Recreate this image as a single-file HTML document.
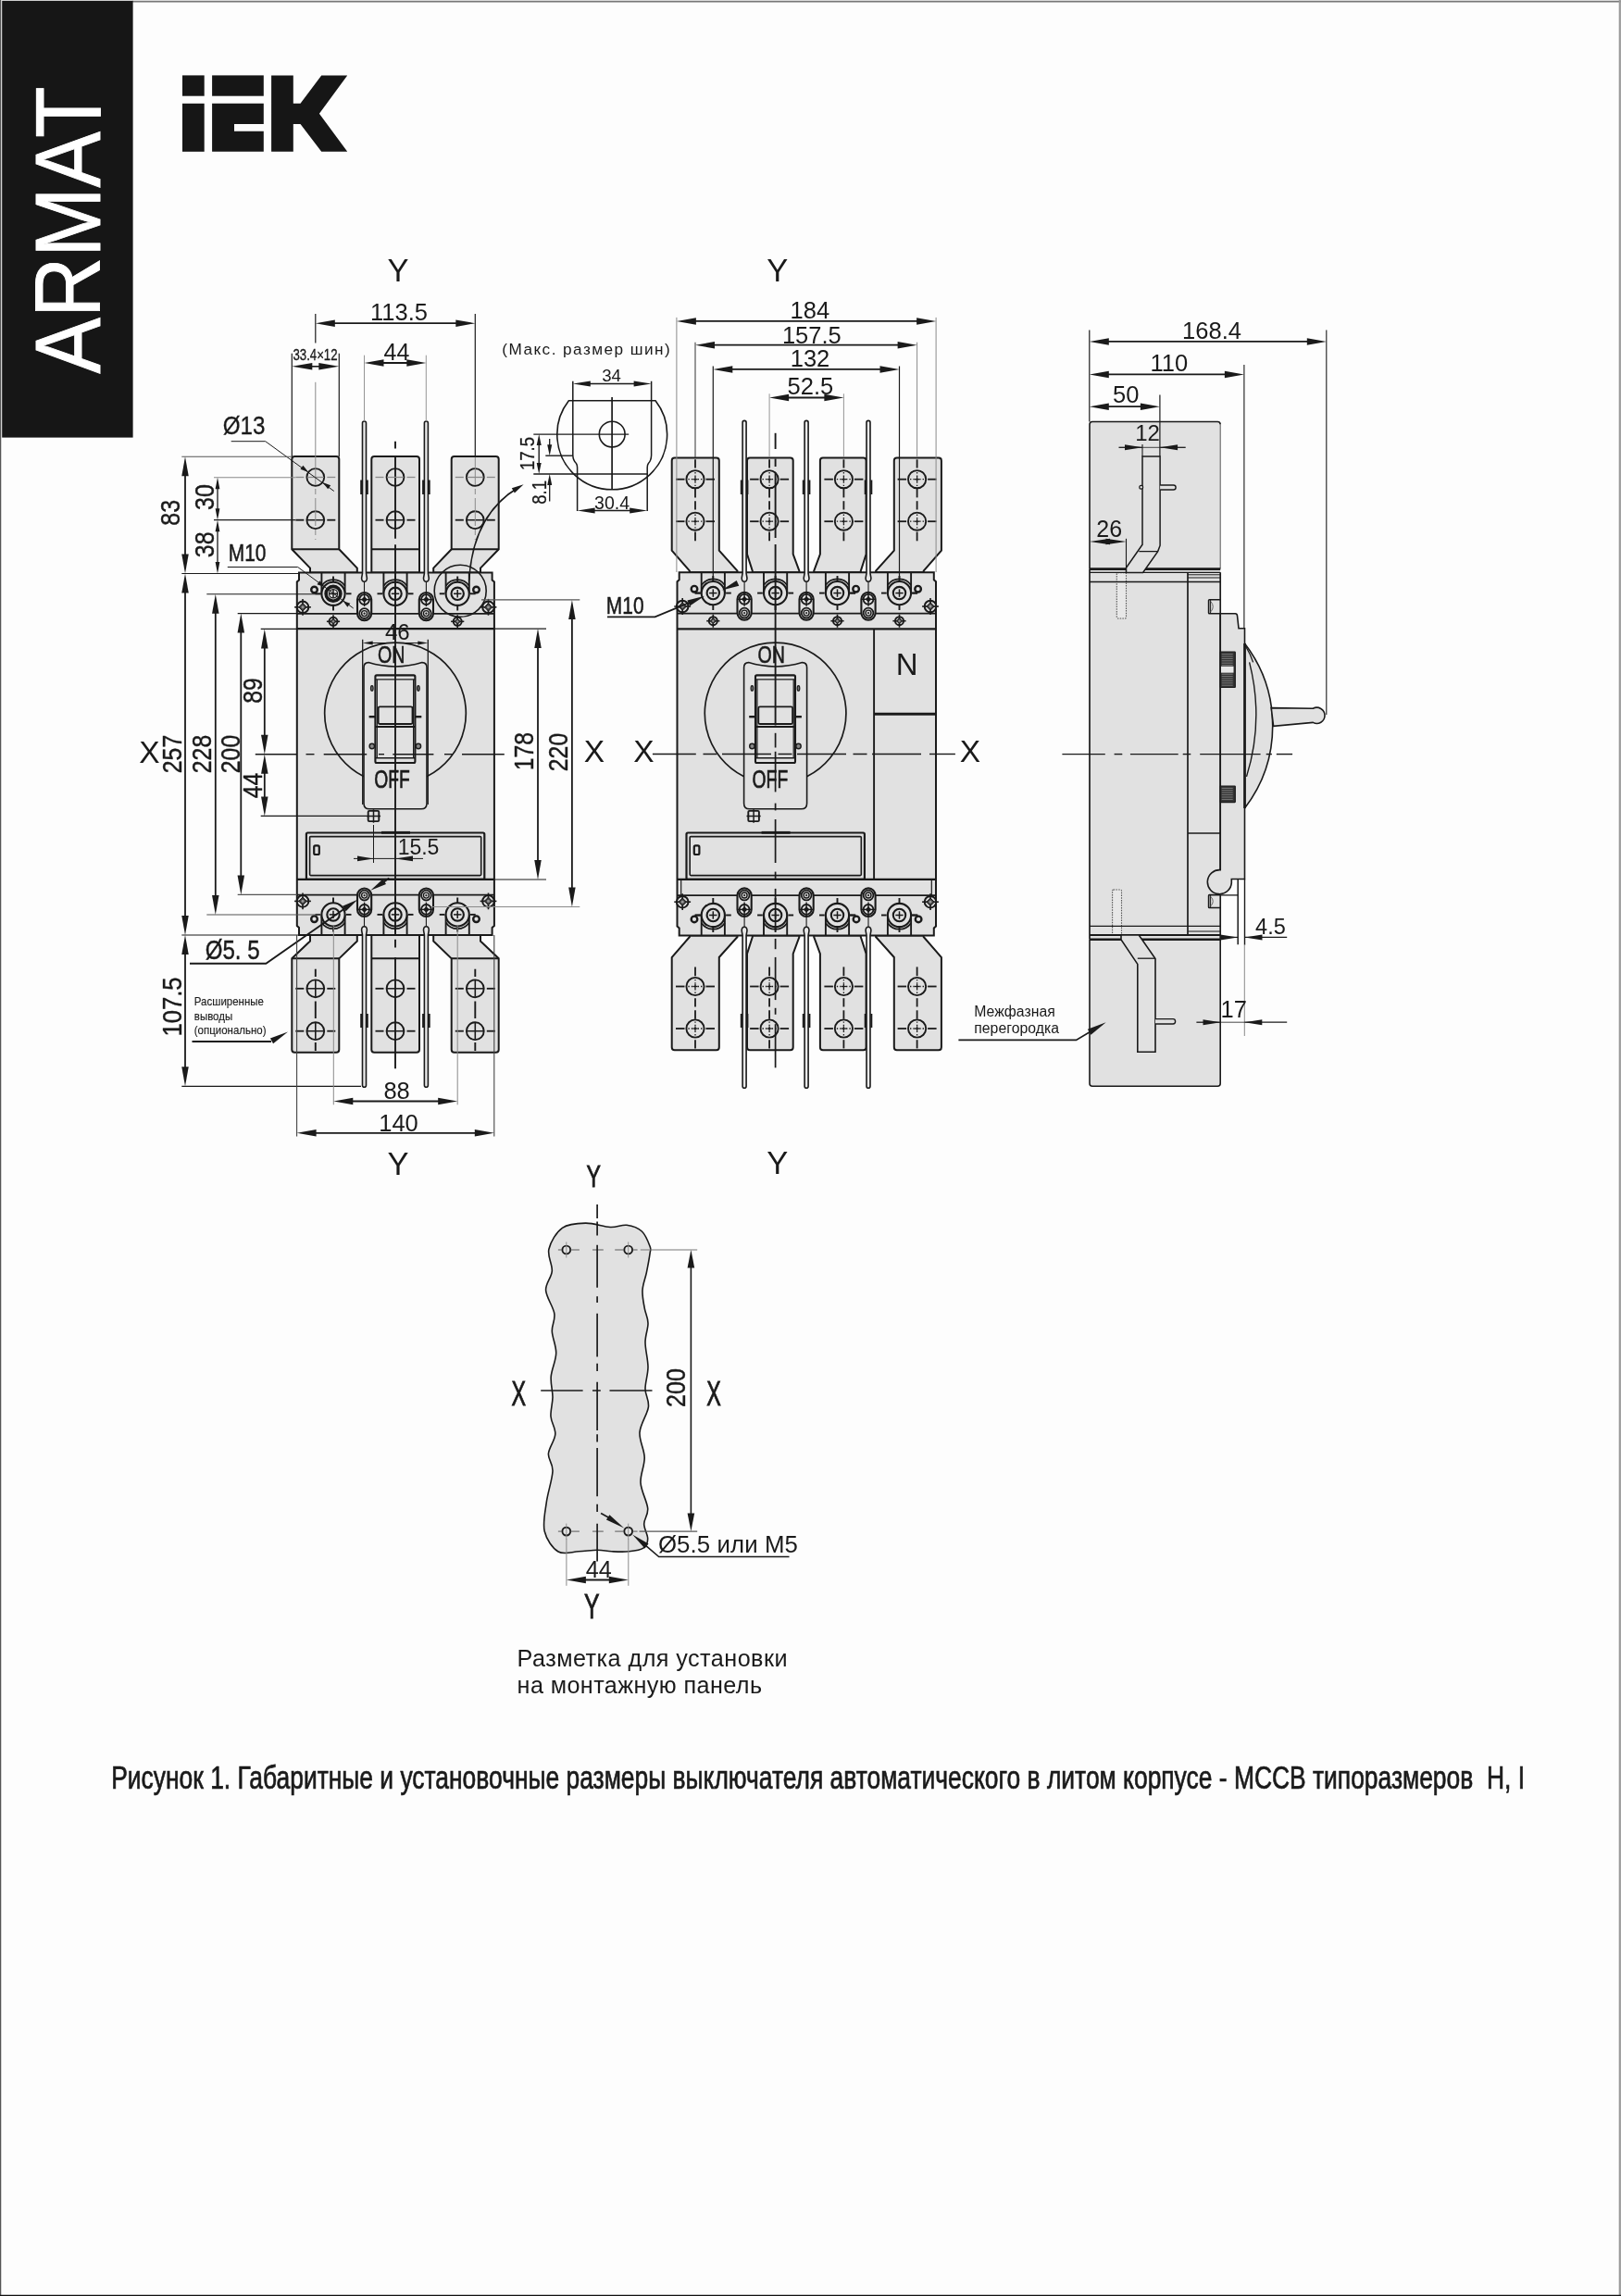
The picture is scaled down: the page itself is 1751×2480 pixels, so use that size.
<!DOCTYPE html>
<html><head><meta charset="utf-8"><title>ARMAT MCCB</title>
<style>html,body{margin:0;padding:0;background:#fdfdfd}svg{display:block;will-change:transform}text{font-family:"Liberation Sans",sans-serif}</style>
</head><body>
<svg width="1751" height="2480" viewBox="0 0 1751 2480">
<rect x="0" y="0" width="1751" height="2480" fill="#fdfdfd"/>
<line x1="143" y1="1.6" x2="1751" y2="1.6" stroke="#777" stroke-width="1.6"/>
<line x1="0.6" y1="0" x2="0.6" y2="2480" stroke="#555" stroke-width="1.3"/>
<line x1="1749.8" y1="0" x2="1749.8" y2="2480" stroke="#9a9a9a" stroke-width="2.2"/>
<line x1="0" y1="2479.5" x2="1751" y2="2479.5" stroke="#111" stroke-width="1.3"/>
<rect x="2.2" y="0.8" width="141.4" height="471.8" fill="#161616"/>
<text transform="translate(108 248.5) rotate(-90) scale(0.9 1)" font-size="100.5" text-anchor="middle" fill="#fff" stroke="#fff" stroke-width="0.9" >ARMAT</text>
<g fill="#161616">
<rect x="197" y="81.4" width="23.7" height="22.3"/>
<rect x="197" y="111.8" width="23.7" height="52"/>
<rect x="229.1" y="81.4" width="55.7" height="22.3"/>
<path d="M229.1 111.8H284.8V134H253V141.8H284.8V163.8H229.1Z"/>
<path d="M293.1 81.4H316.8V111.8H324.5L347.2 81.4H375.2L344.9 122.7L375.2 163.8H347.2L324.5 134H316.8V163.8H293.1Z"/>
</g>
<text transform="translate(120.2 1931.5) scale(0.77 1)" font-size="34.3" text-anchor="start" fill="#1a1a1a" stroke="#1a1a1a" stroke-width="0.71" xml:space="preserve" style="white-space:pre">Рисунок 1. Габаритные и установочные размеры выключателя автоматического в литом корпусе - MCCB типоразмеров  H, I</text>
<text transform="translate(558.6 1799.8)" font-size="25.2" text-anchor="start" fill="#1a1a1a" letter-spacing="0.45" >Разметка для установки</text>
<text transform="translate(558.6 1829.2)" font-size="25.2" text-anchor="start" fill="#1a1a1a" letter-spacing="0.4" >на монтажную панель</text>
<path d="M335 618.5V613.6L315.3 593.3V496Q315.3 493 318.3 493H363.3Q366.3 493 366.3 496V593.3L385.8 613.6V618.5Z" fill="#e1e1e1" stroke="#1a1a1a" stroke-width="2" />
<line x1="315.3" y1="593.3" x2="366.3" y2="593.3" stroke="#1a1a1a" stroke-width="1.9"/>
<path d="M519 618.5V613.6L538.7 593.3V496Q538.7 493 535.7 493H490.7Q487.7 493 487.7 496V593.3L468.2 613.6V618.5Z" fill="#e1e1e1" stroke="#1a1a1a" stroke-width="2" />
<line x1="538.7" y1="593.3" x2="487.7" y2="593.3" stroke="#1a1a1a" stroke-width="1.9"/>
<path d="M401.3 618.5V496Q401.3 493 404.3 493H450Q453 493 453 496V618.5Z" fill="#e1e1e1" stroke="#1a1a1a" stroke-width="2" />
<line x1="401.3" y1="593.3" x2="453" y2="593.3" stroke="#1a1a1a" stroke-width="1.9"/>
<path d="M335 1010V1016.5L315.3 1035.3V1133.7Q315.3 1136.7 318.3 1136.7H363.3Q366.3 1136.7 366.3 1133.7V1035.3L385.8 1016.5V1010Z" fill="#e1e1e1" stroke="#1a1a1a" stroke-width="2" />
<line x1="315.3" y1="1035.3" x2="366.3" y2="1035.3" stroke="#1a1a1a" stroke-width="1.9"/>
<path d="M519 1010V1016.5L538.7 1035.3V1133.7Q538.7 1136.7 535.7 1136.7H490.7Q487.7 1136.7 487.7 1133.7V1035.3L468.2 1016.5V1010Z" fill="#e1e1e1" stroke="#1a1a1a" stroke-width="2" />
<line x1="538.7" y1="1035.3" x2="487.7" y2="1035.3" stroke="#1a1a1a" stroke-width="1.9"/>
<path d="M401.3 1010V1133.7Q401.3 1136.7 404.3 1136.7H450Q453 1136.7 453 1133.7V1010Z" fill="#e1e1e1" stroke="#1a1a1a" stroke-width="2" />
<line x1="401.3" y1="1035.3" x2="453" y2="1035.3" stroke="#1a1a1a" stroke-width="1.9"/>
<path d="M323 618.5H531.6V626.5L533.9 628.5V1000L531.6 1002V1010H323V1002L320.8 1000V628.5L323 626.5Z" fill="#e1e1e1" stroke="#1a1a1a" stroke-width="2" />
<line x1="320.8" y1="662.8" x2="533.9" y2="662.8" stroke="#1a1a1a" stroke-width="1.8"/>
<line x1="320.8" y1="679.2" x2="533.9" y2="679.2" stroke="#1a1a1a" stroke-width="2.3"/>
<line x1="320.8" y1="949.9" x2="533.9" y2="949.9" stroke="#1a1a1a" stroke-width="2.3"/>
<line x1="320.8" y1="966.7" x2="533.9" y2="966.7" stroke="#1a1a1a" stroke-width="1.8"/>
<path d="M391.5 619.3V457Q391.5 455 393.5 455Q395.5 455 395.5 457V619.3L396.4 624.3Q396.4 628.3 393.5 628.3Q390.6 628.3 390.6 624.3Z" fill="#e9e9e9" stroke="#1a1a1a" stroke-width="1.6" />
<line x1="390.2" y1="518.5" x2="390.2" y2="534" stroke="#1a1a1a" stroke-width="2"/>
<line x1="396.8" y1="518.5" x2="396.8" y2="534" stroke="#1a1a1a" stroke-width="2"/>
<path d="M391.5 1009.8V1172.2Q391.5 1174.2 393.5 1174.2Q395.5 1174.2 395.5 1172.2V1009.8L396.4 1004.8Q396.4 1000.8 393.5 1000.8Q390.6 1000.8 390.6 1004.8Z" fill="#e9e9e9" stroke="#1a1a1a" stroke-width="1.6" />
<line x1="390.2" y1="1095" x2="390.2" y2="1110" stroke="#1a1a1a" stroke-width="2"/>
<line x1="396.8" y1="1095" x2="396.8" y2="1110" stroke="#1a1a1a" stroke-width="2"/>
<line x1="393.5" y1="628.3" x2="393.5" y2="641" stroke="#1a1a1a" stroke-width="1.1"/>
<line x1="393.5" y1="990" x2="393.5" y2="1000.8" stroke="#1a1a1a" stroke-width="1.1"/>
<path d="M458.4 619.3V457Q458.4 455 460.4 455Q462.4 455 462.4 457V619.3L463.3 624.3Q463.3 628.3 460.4 628.3Q457.5 628.3 457.5 624.3Z" fill="#e9e9e9" stroke="#1a1a1a" stroke-width="1.6" />
<line x1="457.1" y1="518.5" x2="457.1" y2="534" stroke="#1a1a1a" stroke-width="2"/>
<line x1="463.7" y1="518.5" x2="463.7" y2="534" stroke="#1a1a1a" stroke-width="2"/>
<path d="M458.4 1009.8V1172.2Q458.4 1174.2 460.4 1174.2Q462.4 1174.2 462.4 1172.2V1009.8L463.3 1004.8Q463.3 1000.8 460.4 1000.8Q457.5 1000.8 457.5 1004.8Z" fill="#e9e9e9" stroke="#1a1a1a" stroke-width="1.6" />
<line x1="457.1" y1="1095" x2="457.1" y2="1110" stroke="#1a1a1a" stroke-width="2"/>
<line x1="463.7" y1="1095" x2="463.7" y2="1110" stroke="#1a1a1a" stroke-width="2"/>
<line x1="460.4" y1="628.3" x2="460.4" y2="641" stroke="#1a1a1a" stroke-width="1.1"/>
<line x1="460.4" y1="990" x2="460.4" y2="1000.8" stroke="#1a1a1a" stroke-width="1.1"/>
<line x1="347.4" y1="618.5" x2="347.4" y2="641.3" stroke="#1a1a1a" stroke-width="1.9"/>
<line x1="372.6" y1="618.5" x2="372.6" y2="641.3" stroke="#1a1a1a" stroke-width="1.9"/>
<path d="M347.4 632.8A15.2 15.2 0 0 1 372.6 632.8" fill="none" stroke="#1a1a1a" stroke-width="1.8" />
<circle cx="360" cy="641.3" r="12.6" fill="#e1e1e1" stroke="#1a1a1a" stroke-width="2.1"/>
<circle cx="360" cy="641.3" r="7.9" fill="none" stroke="#1a1a1a" stroke-width="3.6"/>
<circle cx="360" cy="641.3" r="4.6" fill="none" stroke="#1a1a1a" stroke-width="1.2"/>
<line x1="355.8" y1="641.3" x2="364.2" y2="641.3" stroke="#1a1a1a" stroke-width="1.5"/>
<line x1="360" y1="637.1" x2="360" y2="645.5" stroke="#1a1a1a" stroke-width="1.5"/>
<line x1="340.5" y1="641.3" x2="346.2" y2="641.3" stroke="#1a1a1a" stroke-width="1.9"/>
<line x1="373.8" y1="641.3" x2="379.5" y2="641.3" stroke="#1a1a1a" stroke-width="1.9"/>
<line x1="360" y1="622.5" x2="360" y2="628.6" stroke="#1a1a1a" stroke-width="1.9"/>
<line x1="360" y1="654" x2="360" y2="659.5" stroke="#1a1a1a" stroke-width="1.9"/>
<line x1="347.4" y1="1010" x2="347.4" y2="987.9" stroke="#1a1a1a" stroke-width="1.9"/>
<line x1="372.6" y1="1010" x2="372.6" y2="987.9" stroke="#1a1a1a" stroke-width="1.9"/>
<path d="M347.4 996.4A15.2 15.2 0 0 0 372.6 996.4" fill="none" stroke="#1a1a1a" stroke-width="1.8" />
<circle cx="360" cy="987.9" r="12.6" fill="#e1e1e1" stroke="#1a1a1a" stroke-width="2.1"/>
<circle cx="360" cy="987.9" r="6.7" fill="none" stroke="#1a1a1a" stroke-width="2.1"/>
<line x1="355.8" y1="987.9" x2="364.2" y2="987.9" stroke="#1a1a1a" stroke-width="1.5"/>
<line x1="360" y1="983.7" x2="360" y2="992.1" stroke="#1a1a1a" stroke-width="1.5"/>
<line x1="340.5" y1="987.9" x2="346.2" y2="987.9" stroke="#1a1a1a" stroke-width="1.9"/>
<line x1="373.8" y1="987.9" x2="379.5" y2="987.9" stroke="#1a1a1a" stroke-width="1.9"/>
<line x1="360" y1="969.5" x2="360" y2="975" stroke="#1a1a1a" stroke-width="1.9"/>
<line x1="360" y1="1000.5" x2="360" y2="1006.5" stroke="#1a1a1a" stroke-width="1.9"/>
<line x1="414.4" y1="618.5" x2="414.4" y2="641.3" stroke="#1a1a1a" stroke-width="1.9"/>
<line x1="439.6" y1="618.5" x2="439.6" y2="641.3" stroke="#1a1a1a" stroke-width="1.9"/>
<path d="M414.4 632.8A15.2 15.2 0 0 1 439.6 632.8" fill="none" stroke="#1a1a1a" stroke-width="1.8" />
<circle cx="427" cy="641.3" r="12.6" fill="#e1e1e1" stroke="#1a1a1a" stroke-width="2.1"/>
<circle cx="427" cy="641.3" r="6.7" fill="none" stroke="#1a1a1a" stroke-width="2.1"/>
<line x1="422.8" y1="641.3" x2="431.2" y2="641.3" stroke="#1a1a1a" stroke-width="1.5"/>
<line x1="427" y1="637.1" x2="427" y2="645.5" stroke="#1a1a1a" stroke-width="1.5"/>
<line x1="407.5" y1="641.3" x2="413.2" y2="641.3" stroke="#1a1a1a" stroke-width="1.9"/>
<line x1="440.8" y1="641.3" x2="446.5" y2="641.3" stroke="#1a1a1a" stroke-width="1.9"/>
<line x1="427" y1="622.5" x2="427" y2="628.6" stroke="#1a1a1a" stroke-width="1.9"/>
<line x1="427" y1="654" x2="427" y2="659.5" stroke="#1a1a1a" stroke-width="1.9"/>
<line x1="414.4" y1="1010" x2="414.4" y2="987.9" stroke="#1a1a1a" stroke-width="1.9"/>
<line x1="439.6" y1="1010" x2="439.6" y2="987.9" stroke="#1a1a1a" stroke-width="1.9"/>
<path d="M414.4 996.4A15.2 15.2 0 0 0 439.6 996.4" fill="none" stroke="#1a1a1a" stroke-width="1.8" />
<circle cx="427" cy="987.9" r="12.6" fill="#e1e1e1" stroke="#1a1a1a" stroke-width="2.1"/>
<circle cx="427" cy="987.9" r="6.7" fill="none" stroke="#1a1a1a" stroke-width="2.1"/>
<line x1="422.8" y1="987.9" x2="431.2" y2="987.9" stroke="#1a1a1a" stroke-width="1.5"/>
<line x1="427" y1="983.7" x2="427" y2="992.1" stroke="#1a1a1a" stroke-width="1.5"/>
<line x1="407.5" y1="987.9" x2="413.2" y2="987.9" stroke="#1a1a1a" stroke-width="1.9"/>
<line x1="440.8" y1="987.9" x2="446.5" y2="987.9" stroke="#1a1a1a" stroke-width="1.9"/>
<line x1="427" y1="969.5" x2="427" y2="975" stroke="#1a1a1a" stroke-width="1.9"/>
<line x1="427" y1="1000.5" x2="427" y2="1006.5" stroke="#1a1a1a" stroke-width="1.9"/>
<line x1="481.6" y1="618.5" x2="481.6" y2="641.3" stroke="#1a1a1a" stroke-width="1.9"/>
<line x1="506.8" y1="618.5" x2="506.8" y2="641.3" stroke="#1a1a1a" stroke-width="1.9"/>
<path d="M481.6 632.8A15.2 15.2 0 0 1 506.8 632.8" fill="none" stroke="#1a1a1a" stroke-width="1.8" />
<circle cx="494.2" cy="641.3" r="12.6" fill="#e1e1e1" stroke="#1a1a1a" stroke-width="2.1"/>
<circle cx="494.2" cy="641.3" r="6.7" fill="none" stroke="#1a1a1a" stroke-width="2.1"/>
<line x1="490" y1="641.3" x2="498.4" y2="641.3" stroke="#1a1a1a" stroke-width="1.5"/>
<line x1="494.2" y1="637.1" x2="494.2" y2="645.5" stroke="#1a1a1a" stroke-width="1.5"/>
<line x1="474.7" y1="641.3" x2="480.4" y2="641.3" stroke="#1a1a1a" stroke-width="1.9"/>
<line x1="508" y1="641.3" x2="513.7" y2="641.3" stroke="#1a1a1a" stroke-width="1.9"/>
<line x1="494.2" y1="622.5" x2="494.2" y2="628.6" stroke="#1a1a1a" stroke-width="1.9"/>
<line x1="494.2" y1="654" x2="494.2" y2="659.5" stroke="#1a1a1a" stroke-width="1.9"/>
<line x1="481.6" y1="1010" x2="481.6" y2="987.9" stroke="#1a1a1a" stroke-width="1.9"/>
<line x1="506.8" y1="1010" x2="506.8" y2="987.9" stroke="#1a1a1a" stroke-width="1.9"/>
<path d="M481.6 996.4A15.2 15.2 0 0 0 506.8 996.4" fill="none" stroke="#1a1a1a" stroke-width="1.8" />
<circle cx="494.2" cy="987.9" r="12.6" fill="#e1e1e1" stroke="#1a1a1a" stroke-width="2.1"/>
<circle cx="494.2" cy="987.9" r="6.7" fill="none" stroke="#1a1a1a" stroke-width="2.1"/>
<line x1="490" y1="987.9" x2="498.4" y2="987.9" stroke="#1a1a1a" stroke-width="1.5"/>
<line x1="494.2" y1="983.7" x2="494.2" y2="992.1" stroke="#1a1a1a" stroke-width="1.5"/>
<line x1="474.7" y1="987.9" x2="480.4" y2="987.9" stroke="#1a1a1a" stroke-width="1.9"/>
<line x1="508" y1="987.9" x2="513.7" y2="987.9" stroke="#1a1a1a" stroke-width="1.9"/>
<line x1="494.2" y1="969.5" x2="494.2" y2="975" stroke="#1a1a1a" stroke-width="1.9"/>
<line x1="494.2" y1="1000.5" x2="494.2" y2="1006.5" stroke="#1a1a1a" stroke-width="1.9"/>
<circle cx="339.5" cy="637" r="3.3" fill="#e1e1e1" stroke="#1a1a1a" stroke-width="2.4"/>
<circle cx="339.5" cy="992.7" r="3.3" fill="#e1e1e1" stroke="#1a1a1a" stroke-width="2.4"/>
<circle cx="514.5" cy="637" r="3.3" fill="#e1e1e1" stroke="#1a1a1a" stroke-width="2.4"/>
<circle cx="514.5" cy="992.7" r="3.3" fill="#e1e1e1" stroke="#1a1a1a" stroke-width="2.4"/>
<circle cx="327" cy="655.8" r="6.3" fill="#e1e1e1" stroke="#1a1a1a" stroke-width="2"/>
<line x1="318.1" y1="655.8" x2="335.9" y2="655.8" stroke="#1a1a1a" stroke-width="1.6"/>
<line x1="327" y1="646.9" x2="327" y2="664.7" stroke="#1a1a1a" stroke-width="1.6"/>
<path d="M327 651.52L331.28 655.8L327 660.08L322.72 655.8Z" fill="#3a3a3a" stroke="#1a1a1a" stroke-width="1"/>
<circle cx="327" cy="655.8" r="1.39" fill="#999" stroke="#999" stroke-width="0.4"/>
<circle cx="327" cy="973.4" r="6.3" fill="#e1e1e1" stroke="#1a1a1a" stroke-width="2"/>
<line x1="318.1" y1="973.4" x2="335.9" y2="973.4" stroke="#1a1a1a" stroke-width="1.6"/>
<line x1="327" y1="964.5" x2="327" y2="982.3" stroke="#1a1a1a" stroke-width="1.6"/>
<path d="M327 969.12L331.28 973.4L327 977.68L322.72 973.4Z" fill="#3a3a3a" stroke="#1a1a1a" stroke-width="1"/>
<circle cx="327" cy="973.4" r="1.39" fill="#999" stroke="#999" stroke-width="0.4"/>
<circle cx="527.5" cy="655.8" r="6.3" fill="#e1e1e1" stroke="#1a1a1a" stroke-width="2"/>
<line x1="518.6" y1="655.8" x2="536.4" y2="655.8" stroke="#1a1a1a" stroke-width="1.6"/>
<line x1="527.5" y1="646.9" x2="527.5" y2="664.7" stroke="#1a1a1a" stroke-width="1.6"/>
<path d="M527.5 651.52L531.78 655.8L527.5 660.08L523.22 655.8Z" fill="#3a3a3a" stroke="#1a1a1a" stroke-width="1"/>
<circle cx="527.5" cy="655.8" r="1.39" fill="#999" stroke="#999" stroke-width="0.4"/>
<circle cx="527.5" cy="973.4" r="6.3" fill="#e1e1e1" stroke="#1a1a1a" stroke-width="2"/>
<line x1="518.6" y1="973.4" x2="536.4" y2="973.4" stroke="#1a1a1a" stroke-width="1.6"/>
<line x1="527.5" y1="964.5" x2="527.5" y2="982.3" stroke="#1a1a1a" stroke-width="1.6"/>
<path d="M527.5 969.12L531.78 973.4L527.5 977.68L523.22 973.4Z" fill="#3a3a3a" stroke="#1a1a1a" stroke-width="1"/>
<circle cx="527.5" cy="973.4" r="1.39" fill="#999" stroke="#999" stroke-width="0.4"/>
<circle cx="360" cy="671.3" r="4.5" fill="#e1e1e1" stroke="#1a1a1a" stroke-width="2"/>
<line x1="352.9" y1="671.3" x2="367.1" y2="671.3" stroke="#1a1a1a" stroke-width="1.6"/>
<line x1="360" y1="664.2" x2="360" y2="678.4" stroke="#1a1a1a" stroke-width="1.6"/>
<path d="M360 668.24L363.06 671.3L360 674.36L356.94 671.3Z" fill="#3a3a3a" stroke="#1a1a1a" stroke-width="1"/>
<circle cx="360" cy="671.3" r="0.99" fill="#999" stroke="#999" stroke-width="0.4"/>
<circle cx="494.2" cy="671.3" r="4.5" fill="#e1e1e1" stroke="#1a1a1a" stroke-width="2"/>
<line x1="487.1" y1="671.3" x2="501.3" y2="671.3" stroke="#1a1a1a" stroke-width="1.6"/>
<line x1="494.2" y1="664.2" x2="494.2" y2="678.4" stroke="#1a1a1a" stroke-width="1.6"/>
<path d="M494.2 668.24L497.26 671.3L494.2 674.36L491.14 671.3Z" fill="#3a3a3a" stroke="#1a1a1a" stroke-width="1"/>
<circle cx="494.2" cy="671.3" r="0.99" fill="#999" stroke="#999" stroke-width="0.4"/>
<rect x="386" y="640" width="15.2" height="30.2" rx="7.6" fill="#e1e1e1" stroke="#1a1a1a" stroke-width="2.1"/>
<circle cx="393.6" cy="647.6" r="5.4" fill="none" stroke="#1a1a1a" stroke-width="1.8"/>
<path d="M393.6 644.3l3.3 3.3l-3.3 3.3l-3.3 -3.3z" fill="#1a1a1a"/>
<line x1="386.2" y1="647.6" x2="401" y2="647.6" stroke="#1a1a1a" stroke-width="1.4"/>
<line x1="393.6" y1="639.8" x2="393.6" y2="655" stroke="#1a1a1a" stroke-width="1.4"/>
<circle cx="393.6" cy="662.6" r="5.4" fill="none" stroke="#1a1a1a" stroke-width="1.8"/>
<circle cx="393.6" cy="662.6" r="3" fill="none" stroke="#1a1a1a" stroke-width="1.4"/>
<circle cx="393.6" cy="662.6" r="0.9" fill="#1a1a1a" stroke="#1a1a1a" stroke-width="0.5"/>
<rect x="386" y="959.5" width="15.2" height="30.5" rx="7.6" fill="#e1e1e1" stroke="#1a1a1a" stroke-width="2.1"/>
<circle cx="393.6" cy="967.1" r="5.4" fill="none" stroke="#1a1a1a" stroke-width="1.8"/>
<circle cx="393.6" cy="967.1" r="3" fill="none" stroke="#1a1a1a" stroke-width="1.4"/>
<circle cx="393.6" cy="967.1" r="0.9" fill="#1a1a1a" stroke="#1a1a1a" stroke-width="0.5"/>
<circle cx="393.6" cy="982.4" r="5.4" fill="none" stroke="#1a1a1a" stroke-width="1.8"/>
<path d="M393.6 979.1l3.3 3.3l-3.3 3.3l-3.3 -3.3z" fill="#1a1a1a"/>
<line x1="386.2" y1="982.4" x2="401" y2="982.4" stroke="#1a1a1a" stroke-width="1.4"/>
<line x1="393.6" y1="974.6" x2="393.6" y2="989.8" stroke="#1a1a1a" stroke-width="1.4"/>
<rect x="452.8" y="640" width="15.2" height="30.2" rx="7.6" fill="#e1e1e1" stroke="#1a1a1a" stroke-width="2.1"/>
<circle cx="460.4" cy="647.6" r="5.4" fill="none" stroke="#1a1a1a" stroke-width="1.8"/>
<path d="M460.4 644.3l3.3 3.3l-3.3 3.3l-3.3 -3.3z" fill="#1a1a1a"/>
<line x1="453" y1="647.6" x2="467.8" y2="647.6" stroke="#1a1a1a" stroke-width="1.4"/>
<line x1="460.4" y1="639.8" x2="460.4" y2="655" stroke="#1a1a1a" stroke-width="1.4"/>
<circle cx="460.4" cy="662.6" r="5.4" fill="none" stroke="#1a1a1a" stroke-width="1.8"/>
<circle cx="460.4" cy="662.6" r="3" fill="none" stroke="#1a1a1a" stroke-width="1.4"/>
<circle cx="460.4" cy="662.6" r="0.9" fill="#1a1a1a" stroke="#1a1a1a" stroke-width="0.5"/>
<rect x="452.8" y="959.5" width="15.2" height="30.5" rx="7.6" fill="#e1e1e1" stroke="#1a1a1a" stroke-width="2.1"/>
<circle cx="460.4" cy="967.1" r="5.4" fill="none" stroke="#1a1a1a" stroke-width="1.8"/>
<circle cx="460.4" cy="967.1" r="3" fill="none" stroke="#1a1a1a" stroke-width="1.4"/>
<circle cx="460.4" cy="967.1" r="0.9" fill="#1a1a1a" stroke="#1a1a1a" stroke-width="0.5"/>
<circle cx="460.4" cy="982.4" r="5.4" fill="none" stroke="#1a1a1a" stroke-width="1.8"/>
<path d="M460.4 979.1l3.3 3.3l-3.3 3.3l-3.3 -3.3z" fill="#1a1a1a"/>
<line x1="453" y1="982.4" x2="467.8" y2="982.4" stroke="#1a1a1a" stroke-width="1.4"/>
<line x1="460.4" y1="974.6" x2="460.4" y2="989.8" stroke="#1a1a1a" stroke-width="1.4"/>
<circle cx="497.2" cy="638.3" r="28" fill="none" stroke="#1a1a1a" stroke-width="1.6"/>
<path d="M506.7 626.7C509 585 524 548 560 526.5" fill="none" stroke="#1a1a1a" stroke-width="1.6" />
<polygon points="565.6,523.3 555.84,532.4 552.84,527.2" fill="#1a1a1a"/>
<path d="M393 838.8A76.3 76.3 0 1 1 461 838.8" fill="none" stroke="#1a1a1a" stroke-width="1.7" />
<path d="M393 867.7V721Q393 715.6 398 715.6Q427 724.4 456 715.6Q461 715.6 461 721V867.7Q461 873.8 455 873.8H399Q393 873.8 393 867.7Z" fill="#e1e1e1" stroke="#1a1a1a" stroke-width="1.6" />
<rect x="405.4" y="729.4" width="43" height="94.6" rx="1.5" fill="none" stroke="#1a1a1a" stroke-width="2.1"/>
<line x1="405.4" y1="733.9" x2="448.4" y2="733.9" stroke="#1a1a1a" stroke-width="1.4"/>
<line x1="407.3" y1="733.9" x2="407.3" y2="818.8" stroke="#1a1a1a" stroke-width="1.2"/>
<line x1="446.6" y1="733.9" x2="446.6" y2="818.8" stroke="#1a1a1a" stroke-width="1.2"/>
<rect x="408.7" y="763.4" width="36.8" height="18.6" rx="1.5" fill="none" stroke="#1a1a1a" stroke-width="1.8"/>
<line x1="405.4" y1="784.9" x2="448.4" y2="784.9" stroke="#1a1a1a" stroke-width="2"/>
<line x1="405.4" y1="818.8" x2="448.4" y2="818.8" stroke="#1a1a1a" stroke-width="1.4"/>
<line x1="398.6" y1="774.2" x2="405.4" y2="774.2" stroke="#1a1a1a" stroke-width="2.4"/>
<line x1="448.4" y1="774.2" x2="455.3" y2="774.2" stroke="#1a1a1a" stroke-width="2.4"/>
<ellipse cx="401.8" cy="743.4" rx="1.3" ry="2.8" fill="#777" stroke="#1a1a1a" stroke-width="1.2"/>
<circle cx="401.8" cy="806" r="2.7" fill="#888" stroke="#1a1a1a" stroke-width="1.4"/>
<ellipse cx="451.9" cy="743.4" rx="1.3" ry="2.8" fill="#777" stroke="#1a1a1a" stroke-width="1.2"/>
<circle cx="451.9" cy="806" r="2.7" fill="#888" stroke="#1a1a1a" stroke-width="1.4"/>
<text transform="translate(422.7 716.2) scale(0.77 1)" font-size="25.5" text-anchor="middle" fill="#1a1a1a" stroke="#1a1a1a" stroke-width="0.53" >ON</text>
<text transform="translate(423.6 850.8) scale(0.72 1)" font-size="26.8" text-anchor="middle" fill="#1a1a1a" stroke="#1a1a1a" stroke-width="0.68" >OFF</text>
<rect x="330.9" y="899.5" width="192.4" height="50.4" rx="1.5" fill="none" stroke="#1a1a1a" stroke-width="2.2"/>
<rect x="334.6" y="903.6" width="185.1" height="42" rx="1" fill="none" stroke="#1a1a1a" stroke-width="1.6"/>
<line x1="412" y1="899.3" x2="443" y2="899.3" stroke="#1a1a1a" stroke-width="2.8"/>
<rect x="339.2" y="913.4" width="5.6" height="9.6" rx="1.5" fill="none" stroke="#1a1a1a" stroke-width="2.2"/>
<rect x="397.7" y="875.9" width="11.6" height="11.2" rx="1.2" fill="none" stroke="#1a1a1a" stroke-width="1.9"/>
<line x1="395.9" y1="881.5" x2="411.1" y2="881.5" stroke="#1a1a1a" stroke-width="1.5"/>
<line x1="403.5" y1="874.3" x2="403.5" y2="888.7" stroke="#1a1a1a" stroke-width="1.5"/>
<line x1="403.5" y1="891" x2="403.5" y2="932" stroke="#1a1a1a" stroke-width="1"/>
<line x1="427" y1="476.7" x2="427" y2="484.4" stroke="#1a1a1a" stroke-width="1.9"/>
<line x1="427" y1="494" x2="427" y2="581.7" stroke="#1a1a1a" stroke-width="1.9"/>
<line x1="427" y1="588.2" x2="427" y2="1010" stroke="#1a1a1a" stroke-width="1.9"/>
<line x1="427" y1="1014.8" x2="427" y2="1023.5" stroke="#1a1a1a" stroke-width="1.9"/>
<line x1="427" y1="1034.2" x2="427" y2="1154.2" stroke="#1a1a1a" stroke-width="1.9"/>
<line x1="275.8" y1="814.7" x2="320.8" y2="814.7" stroke="#1a1a1a" stroke-width="1.4"/>
<line x1="330.5" y1="814.7" x2="339.5" y2="814.7" stroke="#1a1a1a" stroke-width="1.4"/>
<line x1="349.7" y1="814.7" x2="396.2" y2="814.7" stroke="#1a1a1a" stroke-width="1.4"/>
<line x1="409" y1="814.7" x2="415" y2="814.7" stroke="#1a1a1a" stroke-width="1.4"/>
<line x1="424.3" y1="814.7" x2="468.4" y2="814.7" stroke="#1a1a1a" stroke-width="1.4"/>
<line x1="480" y1="814.7" x2="489" y2="814.7" stroke="#1a1a1a" stroke-width="1.4"/>
<line x1="499" y1="814.7" x2="544.8" y2="814.7" stroke="#1a1a1a" stroke-width="1.4"/>
<circle cx="340.8" cy="515.5" r="9.4" fill="none" stroke="#1a1a1a" stroke-width="1.9"/>
<line x1="319.3" y1="515.5" x2="328.3" y2="515.5" stroke="#8a8a8a" stroke-width="1.3"/>
<line x1="331.8" y1="515.5" x2="349.8" y2="515.5" stroke="#8a8a8a" stroke-width="1.3"/>
<line x1="353.3" y1="515.5" x2="362.3" y2="515.5" stroke="#8a8a8a" stroke-width="1.3"/>
<circle cx="340.8" cy="561.7" r="9.4" fill="none" stroke="#1a1a1a" stroke-width="1.9"/>
<line x1="319.3" y1="561.7" x2="328.3" y2="561.7" stroke="#1a1a1a" stroke-width="1.8"/>
<line x1="331.8" y1="561.7" x2="349.8" y2="561.7" stroke="#1a1a1a" stroke-width="1.5"/>
<line x1="353.3" y1="561.7" x2="362.3" y2="561.7" stroke="#1a1a1a" stroke-width="1.8"/>
<circle cx="340.8" cy="1067.8" r="9.4" fill="none" stroke="#1a1a1a" stroke-width="1.9"/>
<line x1="319.3" y1="1067.8" x2="328.3" y2="1067.8" stroke="#1a1a1a" stroke-width="1.8"/>
<line x1="331.8" y1="1067.8" x2="349.8" y2="1067.8" stroke="#1a1a1a" stroke-width="1.5"/>
<line x1="353.3" y1="1067.8" x2="362.3" y2="1067.8" stroke="#1a1a1a" stroke-width="1.8"/>
<circle cx="340.8" cy="1113.7" r="9.4" fill="none" stroke="#1a1a1a" stroke-width="1.9"/>
<line x1="319.3" y1="1113.7" x2="328.3" y2="1113.7" stroke="#1a1a1a" stroke-width="1.8"/>
<line x1="331.8" y1="1113.7" x2="349.8" y2="1113.7" stroke="#1a1a1a" stroke-width="1.5"/>
<line x1="353.3" y1="1113.7" x2="362.3" y2="1113.7" stroke="#1a1a1a" stroke-width="1.8"/>
<line x1="340.8" y1="494" x2="340.8" y2="583" stroke="#8a8a8a" stroke-width="1" stroke-dasharray="30 4 6 4"/>
<line x1="340.8" y1="1046.7" x2="340.8" y2="1055" stroke="#1a1a1a" stroke-width="1.9"/>
<line x1="340.8" y1="1059" x2="340.8" y2="1076.5" stroke="#1a1a1a" stroke-width="1.6"/>
<line x1="340.8" y1="1081.5" x2="340.8" y2="1100" stroke="#1a1a1a" stroke-width="1.9"/>
<line x1="340.8" y1="1104.5" x2="340.8" y2="1122.5" stroke="#1a1a1a" stroke-width="1.6"/>
<line x1="340.8" y1="1126" x2="340.8" y2="1135" stroke="#1a1a1a" stroke-width="1.9"/>
<circle cx="427" cy="515.5" r="9.4" fill="none" stroke="#1a1a1a" stroke-width="1.9"/>
<line x1="405.5" y1="515.5" x2="414.5" y2="515.5" stroke="#8a8a8a" stroke-width="1.3"/>
<line x1="418" y1="515.5" x2="436" y2="515.5" stroke="#8a8a8a" stroke-width="1.3"/>
<line x1="439.5" y1="515.5" x2="448.5" y2="515.5" stroke="#8a8a8a" stroke-width="1.3"/>
<circle cx="427" cy="561.7" r="9.4" fill="none" stroke="#1a1a1a" stroke-width="1.9"/>
<line x1="405.5" y1="561.7" x2="414.5" y2="561.7" stroke="#1a1a1a" stroke-width="1.8"/>
<line x1="418" y1="561.7" x2="436" y2="561.7" stroke="#1a1a1a" stroke-width="1.5"/>
<line x1="439.5" y1="561.7" x2="448.5" y2="561.7" stroke="#1a1a1a" stroke-width="1.8"/>
<circle cx="427" cy="1067.8" r="9.4" fill="none" stroke="#1a1a1a" stroke-width="1.9"/>
<line x1="405.5" y1="1067.8" x2="414.5" y2="1067.8" stroke="#1a1a1a" stroke-width="1.8"/>
<line x1="418" y1="1067.8" x2="436" y2="1067.8" stroke="#1a1a1a" stroke-width="1.5"/>
<line x1="439.5" y1="1067.8" x2="448.5" y2="1067.8" stroke="#1a1a1a" stroke-width="1.8"/>
<circle cx="427" cy="1113.7" r="9.4" fill="none" stroke="#1a1a1a" stroke-width="1.9"/>
<line x1="405.5" y1="1113.7" x2="414.5" y2="1113.7" stroke="#1a1a1a" stroke-width="1.8"/>
<line x1="418" y1="1113.7" x2="436" y2="1113.7" stroke="#1a1a1a" stroke-width="1.5"/>
<line x1="439.5" y1="1113.7" x2="448.5" y2="1113.7" stroke="#1a1a1a" stroke-width="1.8"/>
<circle cx="513.3" cy="515.5" r="9.4" fill="none" stroke="#1a1a1a" stroke-width="1.9"/>
<line x1="491.8" y1="515.5" x2="500.8" y2="515.5" stroke="#8a8a8a" stroke-width="1.3"/>
<line x1="504.3" y1="515.5" x2="522.3" y2="515.5" stroke="#8a8a8a" stroke-width="1.3"/>
<line x1="525.8" y1="515.5" x2="534.8" y2="515.5" stroke="#8a8a8a" stroke-width="1.3"/>
<circle cx="513.3" cy="561.7" r="9.4" fill="none" stroke="#1a1a1a" stroke-width="1.9"/>
<line x1="491.8" y1="561.7" x2="500.8" y2="561.7" stroke="#1a1a1a" stroke-width="1.8"/>
<line x1="504.3" y1="561.7" x2="522.3" y2="561.7" stroke="#1a1a1a" stroke-width="1.5"/>
<line x1="525.8" y1="561.7" x2="534.8" y2="561.7" stroke="#1a1a1a" stroke-width="1.8"/>
<circle cx="513.3" cy="1067.8" r="9.4" fill="none" stroke="#1a1a1a" stroke-width="1.9"/>
<line x1="491.8" y1="1067.8" x2="500.8" y2="1067.8" stroke="#1a1a1a" stroke-width="1.8"/>
<line x1="504.3" y1="1067.8" x2="522.3" y2="1067.8" stroke="#1a1a1a" stroke-width="1.5"/>
<line x1="525.8" y1="1067.8" x2="534.8" y2="1067.8" stroke="#1a1a1a" stroke-width="1.8"/>
<circle cx="513.3" cy="1113.7" r="9.4" fill="none" stroke="#1a1a1a" stroke-width="1.9"/>
<line x1="491.8" y1="1113.7" x2="500.8" y2="1113.7" stroke="#1a1a1a" stroke-width="1.8"/>
<line x1="504.3" y1="1113.7" x2="522.3" y2="1113.7" stroke="#1a1a1a" stroke-width="1.5"/>
<line x1="525.8" y1="1113.7" x2="534.8" y2="1113.7" stroke="#1a1a1a" stroke-width="1.8"/>
<line x1="513.3" y1="494" x2="513.3" y2="583" stroke="#8a8a8a" stroke-width="1" stroke-dasharray="30 4 6 4"/>
<line x1="513.3" y1="1046.7" x2="513.3" y2="1055" stroke="#1a1a1a" stroke-width="1.9"/>
<line x1="513.3" y1="1059" x2="513.3" y2="1076.5" stroke="#1a1a1a" stroke-width="1.6"/>
<line x1="513.3" y1="1081.5" x2="513.3" y2="1100" stroke="#1a1a1a" stroke-width="1.9"/>
<line x1="513.3" y1="1104.5" x2="513.3" y2="1122.5" stroke="#1a1a1a" stroke-width="1.6"/>
<line x1="513.3" y1="1126" x2="513.3" y2="1135" stroke="#1a1a1a" stroke-width="1.9"/>
<line x1="340.8" y1="339" x2="340.8" y2="370.5" stroke="#1a1a1a" stroke-width="1.2"/>
<line x1="340.8" y1="412.8" x2="340.8" y2="494" stroke="#8a8a8a" stroke-width="1"/>
<line x1="513.3" y1="339" x2="513.3" y2="493" stroke="#1a1a1a" stroke-width="1.2"/>
<line x1="353.4" y1="349.2" x2="500.7" y2="349.2" stroke="#1a1a1a" stroke-width="1.8"/>
<polygon points="340.8,349.2 361.8,345.45 361.8,352.95" fill="#1a1a1a"/>
<polygon points="513.3,349.2 492.3,352.95 492.3,345.45" fill="#1a1a1a"/>
<text transform="translate(431 346.3)" font-size="25.5" text-anchor="middle" fill="#1a1a1a" >113.5</text>
<line x1="315.3" y1="381.7" x2="315.3" y2="493" stroke="#1a1a1a" stroke-width="1.2"/>
<line x1="366.3" y1="381.7" x2="366.3" y2="493" stroke="#1a1a1a" stroke-width="1.2"/>
<polygon points="315.3,395.8 337.3,392.05 337.3,399.55" fill="#1a1a1a"/>
<polygon points="366.3,395.8 344.3,399.55 344.3,392.05" fill="#1a1a1a"/>
<line x1="330" y1="395.8" x2="350" y2="395.8" stroke="#1a1a1a" stroke-width="1.6"/>
<text transform="translate(340.5 388.8) scale(0.79 1)" font-size="16.7" text-anchor="middle" fill="#1a1a1a" stroke="#1a1a1a" stroke-width="0.32" >33.4×12</text>
<line x1="393.5" y1="383.7" x2="393.5" y2="455" stroke="#8a8a8a" stroke-width="0.9"/>
<line x1="460.3" y1="383.7" x2="460.3" y2="455" stroke="#8a8a8a" stroke-width="0.9"/>
<line x1="406.1" y1="392" x2="447.7" y2="392" stroke="#1a1a1a" stroke-width="1.8"/>
<polygon points="393.5,392 414.5,388.25 414.5,395.75" fill="#1a1a1a"/>
<polygon points="460.3,392 439.3,395.75 439.3,388.25" fill="#1a1a1a"/>
<text transform="translate(428.5 388.8)" font-size="25" text-anchor="middle" fill="#1a1a1a" >44</text>
<text transform="translate(240.8 468.7) scale(0.88 1)" font-size="27.5" text-anchor="start" fill="#1a1a1a" stroke="#1a1a1a" stroke-width="0.3" >Ø13</text>
<path d="M249.7 476.7H286.7L360.8 530.5" fill="none" stroke="#1a1a1a" stroke-width="1" />
<polygon points="333.19,509.98 324.44,506.71 327.38,502.67" fill="#1a1a1a"/>
<polygon points="348.41,521.02 357.16,524.29 354.22,528.33" fill="#1a1a1a"/>
<line x1="196.3" y1="493.3" x2="315" y2="493.3" stroke="#555" stroke-width="1.1"/>
<line x1="196.3" y1="619.5" x2="323" y2="619.5" stroke="#1a1a1a" stroke-width="1.2"/>
<line x1="200" y1="505.9" x2="200" y2="606.9" stroke="#1a1a1a" stroke-width="1.8"/>
<polygon points="200,493.3 203.75,514.3 196.25,514.3" fill="#1a1a1a"/>
<polygon points="200,619.5 196.25,598.5 203.75,598.5" fill="#1a1a1a"/>
<text transform="translate(194 553.7) rotate(-90) scale(0.85 1)" font-size="29.5" text-anchor="middle" fill="#1a1a1a" stroke="#1a1a1a" stroke-width="0.4" >83</text>
<line x1="231" y1="515.8" x2="319" y2="515.8" stroke="#8a8a8a" stroke-width="1.1"/>
<line x1="231" y1="561.7" x2="319" y2="561.7" stroke="#1a1a1a" stroke-width="1.3"/>
<line x1="235" y1="523.3" x2="235" y2="554.2" stroke="#1a1a1a" stroke-width="1.3"/>
<polygon points="235,515.8 237.4,528.3 232.6,528.3" fill="#1a1a1a"/>
<polygon points="235,561.7 232.6,549.2 237.4,549.2" fill="#1a1a1a"/>
<line x1="235" y1="569.2" x2="235" y2="612" stroke="#1a1a1a" stroke-width="1.3"/>
<polygon points="235,561.7 237.4,574.2 232.6,574.2" fill="#1a1a1a"/>
<polygon points="235,619.5 232.6,607 237.4,607" fill="#1a1a1a"/>
<text transform="translate(231.2 537) rotate(-90) scale(0.85 1)" font-size="29.5" text-anchor="middle" fill="#1a1a1a" stroke="#1a1a1a" stroke-width="0.4" >30</text>
<text transform="translate(231.2 588.3) rotate(-90) scale(0.85 1)" font-size="29.5" text-anchor="middle" fill="#1a1a1a" stroke="#1a1a1a" stroke-width="0.4" >38</text>
<text transform="translate(246.7 605.8) scale(0.79 1)" font-size="26.5" text-anchor="start" fill="#1a1a1a" stroke="#1a1a1a" stroke-width="0.5" >M10</text>
<path d="M245.8 612.5H321.7L381.7 657" fill="none" stroke="#1a1a1a" stroke-width="1" />
<polygon points="350.4,634.1 342.48,631.35 345.46,627.33" fill="#1a1a1a"/>
<polygon points="370.4,649 378.32,651.75 375.34,655.77" fill="#1a1a1a"/>
<line x1="200" y1="632.1" x2="200" y2="997.4" stroke="#1a1a1a" stroke-width="1.8"/>
<polygon points="200,619.5 203.75,640.5 196.25,640.5" fill="#1a1a1a"/>
<polygon points="200,1010 196.25,989 203.75,989" fill="#1a1a1a"/>
<text transform="translate(196 814.5) rotate(-90) scale(0.84 1)" font-size="29.5" text-anchor="middle" fill="#1a1a1a" stroke="#1a1a1a" stroke-width="0.42" >257</text>
<line x1="223.3" y1="641.7" x2="347" y2="641.7" stroke="#1a1a1a" stroke-width="1.1"/>
<line x1="223.3" y1="988" x2="347" y2="988" stroke="#555" stroke-width="1.1"/>
<line x1="232.8" y1="654.3" x2="232.8" y2="975.4" stroke="#1a1a1a" stroke-width="1.8"/>
<polygon points="232.8,641.7 236.55,662.7 229.05,662.7" fill="#1a1a1a"/>
<polygon points="232.8,988 229.05,967 236.55,967" fill="#1a1a1a"/>
<text transform="translate(227.5 814.5) rotate(-90) scale(0.84 1)" font-size="29.5" text-anchor="middle" fill="#1a1a1a" stroke="#1a1a1a" stroke-width="0.42" >228</text>
<line x1="256.7" y1="662.6" x2="320.8" y2="662.6" stroke="#1a1a1a" stroke-width="1.1"/>
<line x1="256.7" y1="966.4" x2="320.8" y2="966.4" stroke="#555" stroke-width="1.1"/>
<line x1="260.3" y1="675.2" x2="260.3" y2="953.8" stroke="#1a1a1a" stroke-width="1.8"/>
<polygon points="260.3,662.6 264.05,683.6 256.55,683.6" fill="#1a1a1a"/>
<polygon points="260.3,966.4 256.55,945.4 264.05,945.4" fill="#1a1a1a"/>
<text transform="translate(259 814.5) rotate(-90) scale(0.84 1)" font-size="29.5" text-anchor="middle" fill="#1a1a1a" stroke="#1a1a1a" stroke-width="0.42" >200</text>
<line x1="281.7" y1="679.4" x2="320.8" y2="679.4" stroke="#1a1a1a" stroke-width="1.2"/>
<line x1="281.7" y1="881.4" x2="396" y2="881.4" stroke="#1a1a1a" stroke-width="1.1"/>
<line x1="285.8" y1="692" x2="285.8" y2="802.1" stroke="#1a1a1a" stroke-width="1.8"/>
<polygon points="285.8,679.4 289.55,700.4 282.05,700.4" fill="#1a1a1a"/>
<polygon points="285.8,814.7 282.05,793.7 289.55,793.7" fill="#1a1a1a"/>
<line x1="285.8" y1="827.3" x2="285.8" y2="868.8" stroke="#1a1a1a" stroke-width="1.8"/>
<polygon points="285.8,814.7 289.55,835.7 282.05,835.7" fill="#1a1a1a"/>
<polygon points="285.8,881.4 282.05,860.4 289.55,860.4" fill="#1a1a1a"/>
<text transform="translate(283 746) rotate(-90) scale(0.84 1)" font-size="29.5" text-anchor="middle" fill="#1a1a1a" stroke="#1a1a1a" stroke-width="0.42" >89</text>
<text transform="translate(283 848.5) rotate(-90) scale(0.84 1)" font-size="29.5" text-anchor="middle" fill="#1a1a1a" stroke="#1a1a1a" stroke-width="0.42" >44</text>
<line x1="391.7" y1="690.8" x2="391.7" y2="869" stroke="#1a1a1a" stroke-width="1.3"/>
<line x1="462.3" y1="690.8" x2="462.3" y2="869" stroke="#1a1a1a" stroke-width="1.3"/>
<line x1="398.3" y1="694.5" x2="455.7" y2="694.5" stroke="#1a1a1a" stroke-width="1.2"/>
<polygon points="391.7,694.5 402.7,692.4 402.7,696.6" fill="#1a1a1a"/>
<polygon points="462.3,694.5 451.3,696.6 451.3,692.4" fill="#1a1a1a"/>
<text transform="translate(429.3 691.3)" font-size="24" text-anchor="middle" fill="#1a1a1a" >46</text>
<line x1="382" y1="927.4" x2="457" y2="927.4" stroke="#1a1a1a" stroke-width="1"/>
<polygon points="403.5,927.4 386,930.2 386,924.6" fill="#1a1a1a"/>
<polygon points="427,927.4 446,924.6 446,930.2" fill="#1a1a1a"/>
<text transform="translate(452 923.4)" font-size="23" text-anchor="middle" fill="#1a1a1a" >15.5</text>
<line x1="533.9" y1="679.1" x2="590" y2="679.1" stroke="#1a1a1a" stroke-width="1.2"/>
<line x1="533.9" y1="950" x2="590" y2="950" stroke="#1a1a1a" stroke-width="1.2"/>
<line x1="581" y1="691.7" x2="581" y2="937.4" stroke="#1a1a1a" stroke-width="1.8"/>
<polygon points="581,679.1 584.75,700.1 577.25,700.1" fill="#1a1a1a"/>
<polygon points="581,950 577.25,929 584.75,929" fill="#1a1a1a"/>
<text transform="translate(576.3 811.6) rotate(-90) scale(0.84 1)" font-size="29.5" text-anchor="middle" fill="#1a1a1a" stroke="#1a1a1a" stroke-width="0.42" >178</text>
<line x1="520" y1="647.9" x2="626.3" y2="647.9" stroke="#555" stroke-width="1.1"/>
<line x1="466" y1="979.5" x2="626.3" y2="979.5" stroke="#8a8a8a" stroke-width="1.1"/>
<line x1="617.9" y1="660.5" x2="617.9" y2="966.9" stroke="#1a1a1a" stroke-width="1.8"/>
<polygon points="617.9,647.9 621.65,668.9 614.15,668.9" fill="#1a1a1a"/>
<polygon points="617.9,979.5 614.15,958.5 621.65,958.5" fill="#1a1a1a"/>
<text transform="translate(613.3 812.5) rotate(-90) scale(0.84 1)" font-size="29.5" text-anchor="middle" fill="#1a1a1a" stroke="#1a1a1a" stroke-width="0.42" >220</text>
<text transform="translate(221.7 1035.8) scale(0.83 1)" font-size="29" text-anchor="start" fill="#1a1a1a" stroke="#1a1a1a" stroke-width="0.44" >Ø5. 5</text>
<path d="M205 1040.8H287.3L372.5 981.2" fill="none" stroke="#1a1a1a" stroke-width="1.9" />
<line x1="414.5" y1="952.7" x2="420.3" y2="948.5" stroke="#1a1a1a" stroke-width="1.9"/>
<polygon points="386.3,971.8 373.67,984.36 369.92,978.81" fill="#1a1a1a"/>
<polygon points="400.3,961.8 413.57,949.51 417.02,954.91" fill="#1a1a1a"/>
<line x1="196.3" y1="1010" x2="323" y2="1010" stroke="#1a1a1a" stroke-width="1.2"/>
<line x1="196.3" y1="1173.3" x2="390" y2="1173.3" stroke="#1a1a1a" stroke-width="1.2"/>
<line x1="200" y1="1022.6" x2="200" y2="1160.7" stroke="#1a1a1a" stroke-width="1.8"/>
<polygon points="200,1010 203.75,1031 196.25,1031" fill="#1a1a1a"/>
<polygon points="200,1173.3 196.25,1152.3 203.75,1152.3" fill="#1a1a1a"/>
<text transform="translate(195.8 1087.5) rotate(-90) scale(0.87 1)" font-size="29.5" text-anchor="middle" fill="#1a1a1a" stroke="#1a1a1a" stroke-width="0.35" >107.5</text>
<text transform="translate(209.8 1085.8) scale(0.89 1)" font-size="12.9" text-anchor="start" fill="#1a1a1a" stroke="#1a1a1a" stroke-width="0.13" >Расширенные</text>
<text transform="translate(209.8 1101.7) scale(0.89 1)" font-size="12.9" text-anchor="start" fill="#1a1a1a" stroke="#1a1a1a" stroke-width="0.13" >выводы</text>
<text transform="translate(209.8 1117.3) scale(0.89 1)" font-size="12.9" text-anchor="start" fill="#1a1a1a" stroke="#1a1a1a" stroke-width="0.13" >(опционально)</text>
<path d="M207.5 1125H293" fill="none" stroke="#1a1a1a" stroke-width="1.9" />
<polygon points="311,1114.6 295.08,1127.14 291.93,1121.45" fill="#1a1a1a"/>
<line x1="360.3" y1="1000" x2="360.3" y2="1193.3" stroke="#8a8a8a" stroke-width="1"/>
<line x1="494.2" y1="1000" x2="494.2" y2="1193.3" stroke="#8a8a8a" stroke-width="1"/>
<line x1="372.9" y1="1189.5" x2="481.6" y2="1189.5" stroke="#1a1a1a" stroke-width="1.8"/>
<polygon points="360.3,1189.5 381.3,1185.75 381.3,1193.25" fill="#1a1a1a"/>
<polygon points="494.2,1189.5 473.2,1193.25 473.2,1185.75" fill="#1a1a1a"/>
<text transform="translate(428.6 1186.7)" font-size="25.5" text-anchor="middle" fill="#1a1a1a" >88</text>
<line x1="320.6" y1="1010" x2="320.6" y2="1227.5" stroke="#444" stroke-width="1.1"/>
<line x1="533.8" y1="1010" x2="533.8" y2="1227.5" stroke="#444" stroke-width="1.1"/>
<line x1="333.2" y1="1223.8" x2="521.2" y2="1223.8" stroke="#1a1a1a" stroke-width="1.8"/>
<polygon points="320.6,1223.8 341.6,1220.05 341.6,1227.55" fill="#1a1a1a"/>
<polygon points="533.8,1223.8 512.8,1227.55 512.8,1220.05" fill="#1a1a1a"/>
<text transform="translate(430.5 1222.3)" font-size="25.5" text-anchor="middle" fill="#1a1a1a" >140</text>
<text transform="translate(430 304)" font-size="34.5" text-anchor="middle" fill="#1a1a1a" >Y</text>
<text transform="translate(430 1268.5)" font-size="34.5" text-anchor="middle" fill="#1a1a1a" >Y</text>
<text transform="translate(161.5 823.5)" font-size="33.5" text-anchor="middle" fill="#1a1a1a" >X</text>
<text transform="translate(642 823.2)" font-size="33.5" text-anchor="middle" fill="#1a1a1a" >X</text>
<path d="M744.9 618.2V616.7L725.7 594.7V497.4Q725.7 494.4 728.7 494.4H773.8Q776.8 494.4 776.8 497.4V594.7L796.5 616.7V618.2Z" fill="#e1e1e1" stroke="#1a1a1a" stroke-width="2" />
<path d="M946.1 618.2V616.7L965.8 594.7V497.4Q965.8 494.4 968.8 494.4H1013.9Q1016.9 494.4 1016.9 497.4V594.7L997.7 616.7V618.2Z" fill="#e1e1e1" stroke="#1a1a1a" stroke-width="2" />
<path d="M812.8 618.2V616.7L807 598.6V497.4Q807 494.4 810 494.4H853.7Q856.7 494.4 856.7 497.4V598.6L863.4 616.7V618.2Z" fill="#e1e1e1" stroke="#1a1a1a" stroke-width="2" />
<path d="M879.2 618.2V616.7L885.9 598.6V497.4Q885.9 494.4 888.9 494.4H932.6Q935.6 494.4 935.6 497.4V598.6L929.8 616.7V618.2Z" fill="#e1e1e1" stroke="#1a1a1a" stroke-width="2" />
<path d="M744.9 1010.5V1012L725.7 1034V1131.3Q725.7 1134.3 728.7 1134.3H773.8Q776.8 1134.3 776.8 1131.3V1034L796.5 1012V1010.5Z" fill="#e1e1e1" stroke="#1a1a1a" stroke-width="2" />
<path d="M946.1 1010.5V1012L965.8 1034V1131.3Q965.8 1134.3 968.8 1134.3H1013.9Q1016.9 1134.3 1016.9 1131.3V1034L997.7 1012V1010.5Z" fill="#e1e1e1" stroke="#1a1a1a" stroke-width="2" />
<path d="M812.8 1010.5V1012L807 1030.1V1131.3Q807 1134.3 810 1134.3H853.7Q856.7 1134.3 856.7 1131.3V1030.1L863.4 1012V1010.5Z" fill="#e1e1e1" stroke="#1a1a1a" stroke-width="2" />
<path d="M879.2 1010.5V1012L885.9 1030.1V1131.3Q885.9 1134.3 888.9 1134.3H932.6Q935.6 1134.3 935.6 1131.3V1030.1L929.8 1012V1010.5Z" fill="#e1e1e1" stroke="#1a1a1a" stroke-width="2" />
<path d="M733.7 618.2H1008.8V626.2L1011 628.2V1000.5L1008.8 1002.5V1010.5H733.7V1002.5L731.5 1000.5V628.2L733.7 626.2Z" fill="#e1e1e1" stroke="#1a1a1a" stroke-width="2" />
<line x1="731.5" y1="662.6" x2="1011" y2="662.6" stroke="#1a1a1a" stroke-width="1.8"/>
<line x1="731.5" y1="679.3" x2="1011" y2="679.3" stroke="#1a1a1a" stroke-width="2.3"/>
<line x1="731.5" y1="949.9" x2="1011" y2="949.9" stroke="#1a1a1a" stroke-width="2.3"/>
<line x1="731.5" y1="967.1" x2="1011" y2="967.1" stroke="#1a1a1a" stroke-width="1.8"/>
<line x1="944.1" y1="679.3" x2="944.1" y2="949.9" stroke="#1a1a1a" stroke-width="1.9"/>
<line x1="944.1" y1="771.3" x2="1011" y2="771.3" stroke="#1a1a1a" stroke-width="3"/>
<line x1="735.7" y1="949.9" x2="735.7" y2="967.1" stroke="#1a1a1a" stroke-width="1.2"/>
<line x1="1006.3" y1="949.9" x2="1006.3" y2="967.1" stroke="#1a1a1a" stroke-width="1.2"/>
<path d="M802.1 619.3V456.4Q802.1 454.4 804.1 454.4Q806.1 454.4 806.1 456.4V619.3L807 624.3Q807 628.3 804.1 628.3Q801.2 628.3 801.2 624.3Z" fill="#e9e9e9" stroke="#1a1a1a" stroke-width="1.6" />
<line x1="800.8" y1="518.5" x2="800.8" y2="534" stroke="#1a1a1a" stroke-width="2"/>
<line x1="807.4" y1="518.5" x2="807.4" y2="534" stroke="#1a1a1a" stroke-width="2"/>
<path d="M802.1 1010.3V1173.2Q802.1 1175.2 804.1 1175.2Q806.1 1175.2 806.1 1173.2V1010.3L807 1005.3Q807 1001.3 804.1 1001.3Q801.2 1001.3 801.2 1005.3Z" fill="#e9e9e9" stroke="#1a1a1a" stroke-width="1.6" />
<line x1="800.8" y1="1095" x2="800.8" y2="1110" stroke="#1a1a1a" stroke-width="2"/>
<line x1="807.4" y1="1095" x2="807.4" y2="1110" stroke="#1a1a1a" stroke-width="2"/>
<line x1="804.1" y1="628.3" x2="804.1" y2="640" stroke="#1a1a1a" stroke-width="1.1"/>
<line x1="804.1" y1="990" x2="804.1" y2="1001.3" stroke="#1a1a1a" stroke-width="1.1"/>
<path d="M869.1 619.3V456.4Q869.1 454.4 871.1 454.4Q873.1 454.4 873.1 456.4V619.3L874 624.3Q874 628.3 871.1 628.3Q868.2 628.3 868.2 624.3Z" fill="#e9e9e9" stroke="#1a1a1a" stroke-width="1.6" />
<line x1="867.8" y1="518.5" x2="867.8" y2="534" stroke="#1a1a1a" stroke-width="2"/>
<line x1="874.4" y1="518.5" x2="874.4" y2="534" stroke="#1a1a1a" stroke-width="2"/>
<path d="M869.1 1010.3V1173.2Q869.1 1175.2 871.1 1175.2Q873.1 1175.2 873.1 1173.2V1010.3L874 1005.3Q874 1001.3 871.1 1001.3Q868.2 1001.3 868.2 1005.3Z" fill="#e9e9e9" stroke="#1a1a1a" stroke-width="1.6" />
<line x1="867.8" y1="1095" x2="867.8" y2="1110" stroke="#1a1a1a" stroke-width="2"/>
<line x1="874.4" y1="1095" x2="874.4" y2="1110" stroke="#1a1a1a" stroke-width="2"/>
<line x1="871.1" y1="628.3" x2="871.1" y2="640" stroke="#1a1a1a" stroke-width="1.1"/>
<line x1="871.1" y1="990" x2="871.1" y2="1001.3" stroke="#1a1a1a" stroke-width="1.1"/>
<path d="M936 619.3V456.4Q936 454.4 938 454.4Q940 454.4 940 456.4V619.3L940.9 624.3Q940.9 628.3 938 628.3Q935.1 628.3 935.1 624.3Z" fill="#e9e9e9" stroke="#1a1a1a" stroke-width="1.6" />
<line x1="934.7" y1="518.5" x2="934.7" y2="534" stroke="#1a1a1a" stroke-width="2"/>
<line x1="941.3" y1="518.5" x2="941.3" y2="534" stroke="#1a1a1a" stroke-width="2"/>
<path d="M936 1010.3V1173.2Q936 1175.2 938 1175.2Q940 1175.2 940 1173.2V1010.3L940.9 1005.3Q940.9 1001.3 938 1001.3Q935.1 1001.3 935.1 1005.3Z" fill="#e9e9e9" stroke="#1a1a1a" stroke-width="1.6" />
<line x1="934.7" y1="1095" x2="934.7" y2="1110" stroke="#1a1a1a" stroke-width="2"/>
<line x1="941.3" y1="1095" x2="941.3" y2="1110" stroke="#1a1a1a" stroke-width="2"/>
<line x1="938" y1="628.3" x2="938" y2="640" stroke="#1a1a1a" stroke-width="1.1"/>
<line x1="938" y1="990" x2="938" y2="1001.3" stroke="#1a1a1a" stroke-width="1.1"/>
<line x1="757.7" y1="618.2" x2="757.7" y2="640.6" stroke="#1a1a1a" stroke-width="1.9"/>
<line x1="782.9" y1="618.2" x2="782.9" y2="640.6" stroke="#1a1a1a" stroke-width="1.9"/>
<path d="M757.7 632.1A15.2 15.2 0 0 1 782.9 632.1" fill="none" stroke="#1a1a1a" stroke-width="1.8" />
<circle cx="770.3" cy="640.6" r="12.6" fill="#e1e1e1" stroke="#1a1a1a" stroke-width="2.1"/>
<circle cx="770.3" cy="640.6" r="6.7" fill="none" stroke="#1a1a1a" stroke-width="2.1"/>
<line x1="766.1" y1="640.6" x2="774.5" y2="640.6" stroke="#1a1a1a" stroke-width="1.5"/>
<line x1="770.3" y1="636.4" x2="770.3" y2="644.8" stroke="#1a1a1a" stroke-width="1.5"/>
<line x1="750.8" y1="640.6" x2="756.5" y2="640.6" stroke="#1a1a1a" stroke-width="1.9"/>
<line x1="784.1" y1="640.6" x2="789.8" y2="640.6" stroke="#1a1a1a" stroke-width="1.9"/>
<line x1="770.3" y1="622" x2="770.3" y2="628" stroke="#1a1a1a" stroke-width="1.9"/>
<line x1="770.3" y1="653.5" x2="770.3" y2="659" stroke="#1a1a1a" stroke-width="1.9"/>
<line x1="757.7" y1="1010.5" x2="757.7" y2="988.5" stroke="#1a1a1a" stroke-width="1.9"/>
<line x1="782.9" y1="1010.5" x2="782.9" y2="988.5" stroke="#1a1a1a" stroke-width="1.9"/>
<path d="M757.7 997A15.2 15.2 0 0 0 782.9 997" fill="none" stroke="#1a1a1a" stroke-width="1.8" />
<circle cx="770.3" cy="988.5" r="12.6" fill="#e1e1e1" stroke="#1a1a1a" stroke-width="2.1"/>
<circle cx="770.3" cy="988.5" r="6.7" fill="none" stroke="#1a1a1a" stroke-width="2.1"/>
<line x1="766.1" y1="988.5" x2="774.5" y2="988.5" stroke="#1a1a1a" stroke-width="1.5"/>
<line x1="770.3" y1="984.3" x2="770.3" y2="992.7" stroke="#1a1a1a" stroke-width="1.5"/>
<line x1="750.8" y1="988.5" x2="756.5" y2="988.5" stroke="#1a1a1a" stroke-width="1.9"/>
<line x1="784.1" y1="988.5" x2="789.8" y2="988.5" stroke="#1a1a1a" stroke-width="1.9"/>
<line x1="770.3" y1="970" x2="770.3" y2="975.5" stroke="#1a1a1a" stroke-width="1.9"/>
<line x1="770.3" y1="1001" x2="770.3" y2="1007" stroke="#1a1a1a" stroke-width="1.9"/>
<line x1="825" y1="618.2" x2="825" y2="640.6" stroke="#1a1a1a" stroke-width="1.9"/>
<line x1="850.2" y1="618.2" x2="850.2" y2="640.6" stroke="#1a1a1a" stroke-width="1.9"/>
<path d="M825 632.1A15.2 15.2 0 0 1 850.2 632.1" fill="none" stroke="#1a1a1a" stroke-width="1.8" />
<circle cx="837.6" cy="640.6" r="12.6" fill="#e1e1e1" stroke="#1a1a1a" stroke-width="2.1"/>
<circle cx="837.6" cy="640.6" r="6.7" fill="none" stroke="#1a1a1a" stroke-width="2.1"/>
<line x1="833.4" y1="640.6" x2="841.8" y2="640.6" stroke="#1a1a1a" stroke-width="1.5"/>
<line x1="837.6" y1="636.4" x2="837.6" y2="644.8" stroke="#1a1a1a" stroke-width="1.5"/>
<line x1="818.1" y1="640.6" x2="823.8" y2="640.6" stroke="#1a1a1a" stroke-width="1.9"/>
<line x1="851.4" y1="640.6" x2="857.1" y2="640.6" stroke="#1a1a1a" stroke-width="1.9"/>
<line x1="837.6" y1="622" x2="837.6" y2="628" stroke="#1a1a1a" stroke-width="1.9"/>
<line x1="837.6" y1="653.5" x2="837.6" y2="659" stroke="#1a1a1a" stroke-width="1.9"/>
<line x1="825" y1="1010.5" x2="825" y2="988.5" stroke="#1a1a1a" stroke-width="1.9"/>
<line x1="850.2" y1="1010.5" x2="850.2" y2="988.5" stroke="#1a1a1a" stroke-width="1.9"/>
<path d="M825 997A15.2 15.2 0 0 0 850.2 997" fill="none" stroke="#1a1a1a" stroke-width="1.8" />
<circle cx="837.6" cy="988.5" r="12.6" fill="#e1e1e1" stroke="#1a1a1a" stroke-width="2.1"/>
<circle cx="837.6" cy="988.5" r="6.7" fill="none" stroke="#1a1a1a" stroke-width="2.1"/>
<line x1="833.4" y1="988.5" x2="841.8" y2="988.5" stroke="#1a1a1a" stroke-width="1.5"/>
<line x1="837.6" y1="984.3" x2="837.6" y2="992.7" stroke="#1a1a1a" stroke-width="1.5"/>
<line x1="818.1" y1="988.5" x2="823.8" y2="988.5" stroke="#1a1a1a" stroke-width="1.9"/>
<line x1="851.4" y1="988.5" x2="857.1" y2="988.5" stroke="#1a1a1a" stroke-width="1.9"/>
<line x1="837.6" y1="970" x2="837.6" y2="975.5" stroke="#1a1a1a" stroke-width="1.9"/>
<line x1="837.6" y1="1001" x2="837.6" y2="1007" stroke="#1a1a1a" stroke-width="1.9"/>
<line x1="891.9" y1="618.2" x2="891.9" y2="640.6" stroke="#1a1a1a" stroke-width="1.9"/>
<line x1="917.1" y1="618.2" x2="917.1" y2="640.6" stroke="#1a1a1a" stroke-width="1.9"/>
<path d="M891.9 632.1A15.2 15.2 0 0 1 917.1 632.1" fill="none" stroke="#1a1a1a" stroke-width="1.8" />
<circle cx="904.5" cy="640.6" r="12.6" fill="#e1e1e1" stroke="#1a1a1a" stroke-width="2.1"/>
<circle cx="904.5" cy="640.6" r="6.7" fill="none" stroke="#1a1a1a" stroke-width="2.1"/>
<line x1="900.3" y1="640.6" x2="908.7" y2="640.6" stroke="#1a1a1a" stroke-width="1.5"/>
<line x1="904.5" y1="636.4" x2="904.5" y2="644.8" stroke="#1a1a1a" stroke-width="1.5"/>
<line x1="885" y1="640.6" x2="890.7" y2="640.6" stroke="#1a1a1a" stroke-width="1.9"/>
<line x1="918.3" y1="640.6" x2="924" y2="640.6" stroke="#1a1a1a" stroke-width="1.9"/>
<line x1="904.5" y1="622" x2="904.5" y2="628" stroke="#1a1a1a" stroke-width="1.9"/>
<line x1="904.5" y1="653.5" x2="904.5" y2="659" stroke="#1a1a1a" stroke-width="1.9"/>
<line x1="891.9" y1="1010.5" x2="891.9" y2="988.5" stroke="#1a1a1a" stroke-width="1.9"/>
<line x1="917.1" y1="1010.5" x2="917.1" y2="988.5" stroke="#1a1a1a" stroke-width="1.9"/>
<path d="M891.9 997A15.2 15.2 0 0 0 917.1 997" fill="none" stroke="#1a1a1a" stroke-width="1.8" />
<circle cx="904.5" cy="988.5" r="12.6" fill="#e1e1e1" stroke="#1a1a1a" stroke-width="2.1"/>
<circle cx="904.5" cy="988.5" r="6.7" fill="none" stroke="#1a1a1a" stroke-width="2.1"/>
<line x1="900.3" y1="988.5" x2="908.7" y2="988.5" stroke="#1a1a1a" stroke-width="1.5"/>
<line x1="904.5" y1="984.3" x2="904.5" y2="992.7" stroke="#1a1a1a" stroke-width="1.5"/>
<line x1="885" y1="988.5" x2="890.7" y2="988.5" stroke="#1a1a1a" stroke-width="1.9"/>
<line x1="918.3" y1="988.5" x2="924" y2="988.5" stroke="#1a1a1a" stroke-width="1.9"/>
<line x1="904.5" y1="970" x2="904.5" y2="975.5" stroke="#1a1a1a" stroke-width="1.9"/>
<line x1="904.5" y1="1001" x2="904.5" y2="1007" stroke="#1a1a1a" stroke-width="1.9"/>
<line x1="958.9" y1="618.2" x2="958.9" y2="640.6" stroke="#1a1a1a" stroke-width="1.9"/>
<line x1="984.1" y1="618.2" x2="984.1" y2="640.6" stroke="#1a1a1a" stroke-width="1.9"/>
<path d="M958.9 632.1A15.2 15.2 0 0 1 984.1 632.1" fill="none" stroke="#1a1a1a" stroke-width="1.8" />
<circle cx="971.5" cy="640.6" r="12.6" fill="#e1e1e1" stroke="#1a1a1a" stroke-width="2.1"/>
<circle cx="971.5" cy="640.6" r="6.7" fill="none" stroke="#1a1a1a" stroke-width="2.1"/>
<line x1="967.3" y1="640.6" x2="975.7" y2="640.6" stroke="#1a1a1a" stroke-width="1.5"/>
<line x1="971.5" y1="636.4" x2="971.5" y2="644.8" stroke="#1a1a1a" stroke-width="1.5"/>
<line x1="952" y1="640.6" x2="957.7" y2="640.6" stroke="#1a1a1a" stroke-width="1.9"/>
<line x1="985.3" y1="640.6" x2="991" y2="640.6" stroke="#1a1a1a" stroke-width="1.9"/>
<line x1="971.5" y1="622" x2="971.5" y2="628" stroke="#1a1a1a" stroke-width="1.9"/>
<line x1="971.5" y1="653.5" x2="971.5" y2="659" stroke="#1a1a1a" stroke-width="1.9"/>
<line x1="958.9" y1="1010.5" x2="958.9" y2="988.5" stroke="#1a1a1a" stroke-width="1.9"/>
<line x1="984.1" y1="1010.5" x2="984.1" y2="988.5" stroke="#1a1a1a" stroke-width="1.9"/>
<path d="M958.9 997A15.2 15.2 0 0 0 984.1 997" fill="none" stroke="#1a1a1a" stroke-width="1.8" />
<circle cx="971.5" cy="988.5" r="12.6" fill="#e1e1e1" stroke="#1a1a1a" stroke-width="2.1"/>
<circle cx="971.5" cy="988.5" r="6.7" fill="none" stroke="#1a1a1a" stroke-width="2.1"/>
<line x1="967.3" y1="988.5" x2="975.7" y2="988.5" stroke="#1a1a1a" stroke-width="1.5"/>
<line x1="971.5" y1="984.3" x2="971.5" y2="992.7" stroke="#1a1a1a" stroke-width="1.5"/>
<line x1="952" y1="988.5" x2="957.7" y2="988.5" stroke="#1a1a1a" stroke-width="1.9"/>
<line x1="985.3" y1="988.5" x2="991" y2="988.5" stroke="#1a1a1a" stroke-width="1.9"/>
<line x1="971.5" y1="970" x2="971.5" y2="975.5" stroke="#1a1a1a" stroke-width="1.9"/>
<line x1="971.5" y1="1001" x2="971.5" y2="1007" stroke="#1a1a1a" stroke-width="1.9"/>
<circle cx="750" cy="636.2" r="3.3" fill="#e1e1e1" stroke="#1a1a1a" stroke-width="2.4"/>
<line x1="750.5" y1="640.5" x2="758" y2="640.6" stroke="#1a1a1a" stroke-width="1.8"/>
<circle cx="924.6" cy="636.2" r="3.3" fill="#e1e1e1" stroke="#1a1a1a" stroke-width="2.4"/>
<line x1="924.1" y1="640.5" x2="916.6" y2="640.6" stroke="#1a1a1a" stroke-width="1.8"/>
<circle cx="991.6" cy="636.2" r="3.3" fill="#e1e1e1" stroke="#1a1a1a" stroke-width="2.4"/>
<line x1="991.1" y1="640.5" x2="983.6" y2="640.6" stroke="#1a1a1a" stroke-width="1.8"/>
<circle cx="750" cy="992.9" r="3.3" fill="#e1e1e1" stroke="#1a1a1a" stroke-width="2.4"/>
<line x1="750.5" y1="988.6" x2="758" y2="988.5" stroke="#1a1a1a" stroke-width="1.8"/>
<circle cx="925" cy="992.9" r="3.3" fill="#e1e1e1" stroke="#1a1a1a" stroke-width="2.4"/>
<line x1="924.5" y1="988.6" x2="917" y2="988.5" stroke="#1a1a1a" stroke-width="1.8"/>
<circle cx="992.1" cy="992.9" r="3.3" fill="#e1e1e1" stroke="#1a1a1a" stroke-width="2.4"/>
<line x1="991.6" y1="988.6" x2="984.1" y2="988.5" stroke="#1a1a1a" stroke-width="1.8"/>
<circle cx="737.2" cy="655" r="6.3" fill="#e1e1e1" stroke="#1a1a1a" stroke-width="2"/>
<line x1="728.3" y1="655" x2="746.1" y2="655" stroke="#1a1a1a" stroke-width="1.6"/>
<line x1="737.2" y1="646.1" x2="737.2" y2="663.9" stroke="#1a1a1a" stroke-width="1.6"/>
<path d="M737.2 650.72L741.48 655L737.2 659.28L732.92 655Z" fill="#3a3a3a" stroke="#1a1a1a" stroke-width="1"/>
<circle cx="737.2" cy="655" r="1.39" fill="#999" stroke="#999" stroke-width="0.4"/>
<circle cx="737.2" cy="974.2" r="6.3" fill="#e1e1e1" stroke="#1a1a1a" stroke-width="2"/>
<line x1="728.3" y1="974.2" x2="746.1" y2="974.2" stroke="#1a1a1a" stroke-width="1.6"/>
<line x1="737.2" y1="965.3" x2="737.2" y2="983.1" stroke="#1a1a1a" stroke-width="1.6"/>
<path d="M737.2 969.92L741.48 974.2L737.2 978.48L732.92 974.2Z" fill="#3a3a3a" stroke="#1a1a1a" stroke-width="1"/>
<circle cx="737.2" cy="974.2" r="1.39" fill="#999" stroke="#999" stroke-width="0.4"/>
<circle cx="1005" cy="655" r="6.3" fill="#e1e1e1" stroke="#1a1a1a" stroke-width="2"/>
<line x1="996.1" y1="655" x2="1013.9" y2="655" stroke="#1a1a1a" stroke-width="1.6"/>
<line x1="1005" y1="646.1" x2="1005" y2="663.9" stroke="#1a1a1a" stroke-width="1.6"/>
<path d="M1005 650.72L1009.28 655L1005 659.28L1000.72 655Z" fill="#3a3a3a" stroke="#1a1a1a" stroke-width="1"/>
<circle cx="1005" cy="655" r="1.39" fill="#999" stroke="#999" stroke-width="0.4"/>
<circle cx="1005" cy="974.2" r="6.3" fill="#e1e1e1" stroke="#1a1a1a" stroke-width="2"/>
<line x1="996.1" y1="974.2" x2="1013.9" y2="974.2" stroke="#1a1a1a" stroke-width="1.6"/>
<line x1="1005" y1="965.3" x2="1005" y2="983.1" stroke="#1a1a1a" stroke-width="1.6"/>
<path d="M1005 969.92L1009.28 974.2L1005 978.48L1000.72 974.2Z" fill="#3a3a3a" stroke="#1a1a1a" stroke-width="1"/>
<circle cx="1005" cy="974.2" r="1.39" fill="#999" stroke="#999" stroke-width="0.4"/>
<circle cx="770.3" cy="670.7" r="4.5" fill="#e1e1e1" stroke="#1a1a1a" stroke-width="2"/>
<line x1="763.2" y1="670.7" x2="777.4" y2="670.7" stroke="#1a1a1a" stroke-width="1.6"/>
<line x1="770.3" y1="663.6" x2="770.3" y2="677.8" stroke="#1a1a1a" stroke-width="1.6"/>
<path d="M770.3 667.64L773.36 670.7L770.3 673.76L767.24 670.7Z" fill="#3a3a3a" stroke="#1a1a1a" stroke-width="1"/>
<circle cx="770.3" cy="670.7" r="0.99" fill="#999" stroke="#999" stroke-width="0.4"/>
<circle cx="904.5" cy="670.7" r="4.5" fill="#e1e1e1" stroke="#1a1a1a" stroke-width="2"/>
<line x1="897.4" y1="670.7" x2="911.6" y2="670.7" stroke="#1a1a1a" stroke-width="1.6"/>
<line x1="904.5" y1="663.6" x2="904.5" y2="677.8" stroke="#1a1a1a" stroke-width="1.6"/>
<path d="M904.5 667.64L907.56 670.7L904.5 673.76L901.44 670.7Z" fill="#3a3a3a" stroke="#1a1a1a" stroke-width="1"/>
<circle cx="904.5" cy="670.7" r="0.99" fill="#999" stroke="#999" stroke-width="0.4"/>
<circle cx="971.5" cy="670.7" r="4.5" fill="#e1e1e1" stroke="#1a1a1a" stroke-width="2"/>
<line x1="964.4" y1="670.7" x2="978.6" y2="670.7" stroke="#1a1a1a" stroke-width="1.6"/>
<line x1="971.5" y1="663.6" x2="971.5" y2="677.8" stroke="#1a1a1a" stroke-width="1.6"/>
<path d="M971.5 667.64L974.56 670.7L971.5 673.76L968.44 670.7Z" fill="#3a3a3a" stroke="#1a1a1a" stroke-width="1"/>
<circle cx="971.5" cy="670.7" r="0.99" fill="#999" stroke="#999" stroke-width="0.4"/>
<rect x="796.5" y="639.7" width="15.2" height="30" rx="7.6" fill="#e1e1e1" stroke="#1a1a1a" stroke-width="2.1"/>
<circle cx="804.1" cy="647.3" r="5.4" fill="none" stroke="#1a1a1a" stroke-width="1.8"/>
<path d="M804.1 644l3.3 3.3l-3.3 3.3l-3.3 -3.3z" fill="#1a1a1a"/>
<line x1="796.7" y1="647.3" x2="811.5" y2="647.3" stroke="#1a1a1a" stroke-width="1.4"/>
<line x1="804.1" y1="639.5" x2="804.1" y2="654.7" stroke="#1a1a1a" stroke-width="1.4"/>
<circle cx="804.1" cy="662.1" r="5.4" fill="none" stroke="#1a1a1a" stroke-width="1.8"/>
<circle cx="804.1" cy="662.1" r="3" fill="none" stroke="#1a1a1a" stroke-width="1.4"/>
<circle cx="804.1" cy="662.1" r="0.9" fill="#1a1a1a" stroke="#1a1a1a" stroke-width="0.5"/>
<rect x="796.5" y="959.4" width="15.2" height="30.6" rx="7.6" fill="#e1e1e1" stroke="#1a1a1a" stroke-width="2.1"/>
<circle cx="804.1" cy="967" r="5.4" fill="none" stroke="#1a1a1a" stroke-width="1.8"/>
<circle cx="804.1" cy="967" r="3" fill="none" stroke="#1a1a1a" stroke-width="1.4"/>
<circle cx="804.1" cy="967" r="0.9" fill="#1a1a1a" stroke="#1a1a1a" stroke-width="0.5"/>
<circle cx="804.1" cy="982.4" r="5.4" fill="none" stroke="#1a1a1a" stroke-width="1.8"/>
<path d="M804.1 979.1l3.3 3.3l-3.3 3.3l-3.3 -3.3z" fill="#1a1a1a"/>
<line x1="796.7" y1="982.4" x2="811.5" y2="982.4" stroke="#1a1a1a" stroke-width="1.4"/>
<line x1="804.1" y1="974.6" x2="804.1" y2="989.8" stroke="#1a1a1a" stroke-width="1.4"/>
<rect x="863.5" y="639.7" width="15.2" height="30" rx="7.6" fill="#e1e1e1" stroke="#1a1a1a" stroke-width="2.1"/>
<circle cx="871.1" cy="647.3" r="5.4" fill="none" stroke="#1a1a1a" stroke-width="1.8"/>
<path d="M871.1 644l3.3 3.3l-3.3 3.3l-3.3 -3.3z" fill="#1a1a1a"/>
<line x1="863.7" y1="647.3" x2="878.5" y2="647.3" stroke="#1a1a1a" stroke-width="1.4"/>
<line x1="871.1" y1="639.5" x2="871.1" y2="654.7" stroke="#1a1a1a" stroke-width="1.4"/>
<circle cx="871.1" cy="662.1" r="5.4" fill="none" stroke="#1a1a1a" stroke-width="1.8"/>
<circle cx="871.1" cy="662.1" r="3" fill="none" stroke="#1a1a1a" stroke-width="1.4"/>
<circle cx="871.1" cy="662.1" r="0.9" fill="#1a1a1a" stroke="#1a1a1a" stroke-width="0.5"/>
<rect x="863.5" y="959.4" width="15.2" height="30.6" rx="7.6" fill="#e1e1e1" stroke="#1a1a1a" stroke-width="2.1"/>
<circle cx="871.1" cy="967" r="5.4" fill="none" stroke="#1a1a1a" stroke-width="1.8"/>
<circle cx="871.1" cy="967" r="3" fill="none" stroke="#1a1a1a" stroke-width="1.4"/>
<circle cx="871.1" cy="967" r="0.9" fill="#1a1a1a" stroke="#1a1a1a" stroke-width="0.5"/>
<circle cx="871.1" cy="982.4" r="5.4" fill="none" stroke="#1a1a1a" stroke-width="1.8"/>
<path d="M871.1 979.1l3.3 3.3l-3.3 3.3l-3.3 -3.3z" fill="#1a1a1a"/>
<line x1="863.7" y1="982.4" x2="878.5" y2="982.4" stroke="#1a1a1a" stroke-width="1.4"/>
<line x1="871.1" y1="974.6" x2="871.1" y2="989.8" stroke="#1a1a1a" stroke-width="1.4"/>
<rect x="930.4" y="639.7" width="15.2" height="30" rx="7.6" fill="#e1e1e1" stroke="#1a1a1a" stroke-width="2.1"/>
<circle cx="938" cy="647.3" r="5.4" fill="none" stroke="#1a1a1a" stroke-width="1.8"/>
<path d="M938 644l3.3 3.3l-3.3 3.3l-3.3 -3.3z" fill="#1a1a1a"/>
<line x1="930.6" y1="647.3" x2="945.4" y2="647.3" stroke="#1a1a1a" stroke-width="1.4"/>
<line x1="938" y1="639.5" x2="938" y2="654.7" stroke="#1a1a1a" stroke-width="1.4"/>
<circle cx="938" cy="662.1" r="5.4" fill="none" stroke="#1a1a1a" stroke-width="1.8"/>
<circle cx="938" cy="662.1" r="3" fill="none" stroke="#1a1a1a" stroke-width="1.4"/>
<circle cx="938" cy="662.1" r="0.9" fill="#1a1a1a" stroke="#1a1a1a" stroke-width="0.5"/>
<rect x="930.4" y="959.4" width="15.2" height="30.6" rx="7.6" fill="#e1e1e1" stroke="#1a1a1a" stroke-width="2.1"/>
<circle cx="938" cy="967" r="5.4" fill="none" stroke="#1a1a1a" stroke-width="1.8"/>
<circle cx="938" cy="967" r="3" fill="none" stroke="#1a1a1a" stroke-width="1.4"/>
<circle cx="938" cy="967" r="0.9" fill="#1a1a1a" stroke="#1a1a1a" stroke-width="0.5"/>
<circle cx="938" cy="982.4" r="5.4" fill="none" stroke="#1a1a1a" stroke-width="1.8"/>
<path d="M938 979.1l3.3 3.3l-3.3 3.3l-3.3 -3.3z" fill="#1a1a1a"/>
<line x1="930.6" y1="982.4" x2="945.4" y2="982.4" stroke="#1a1a1a" stroke-width="1.4"/>
<line x1="938" y1="974.6" x2="938" y2="989.8" stroke="#1a1a1a" stroke-width="1.4"/>
<path d="M803.6 838.8A76.3 76.3 0 1 1 871.6 838.8" fill="none" stroke="#1a1a1a" stroke-width="1.7" />
<path d="M803.6 867.7V721Q803.6 715.6 808.6 715.6Q837.6 724.4 866.6 715.6Q871.6 715.6 871.6 721V867.7Q871.6 873.8 865.6 873.8H809.6Q803.6 873.8 803.6 867.7Z" fill="#e1e1e1" stroke="#1a1a1a" stroke-width="1.6" />
<rect x="816" y="729.4" width="43" height="94.6" rx="1.5" fill="none" stroke="#1a1a1a" stroke-width="2.1"/>
<line x1="816" y1="733.9" x2="859" y2="733.9" stroke="#1a1a1a" stroke-width="1.4"/>
<line x1="817.9" y1="733.9" x2="817.9" y2="818.8" stroke="#1a1a1a" stroke-width="1.2"/>
<line x1="857.2" y1="733.9" x2="857.2" y2="818.8" stroke="#1a1a1a" stroke-width="1.2"/>
<rect x="819.3" y="763.4" width="36.8" height="18.6" rx="1.5" fill="none" stroke="#1a1a1a" stroke-width="1.8"/>
<line x1="816" y1="784.9" x2="859" y2="784.9" stroke="#1a1a1a" stroke-width="2"/>
<line x1="816" y1="818.8" x2="859" y2="818.8" stroke="#1a1a1a" stroke-width="1.4"/>
<line x1="809.2" y1="774.2" x2="816" y2="774.2" stroke="#1a1a1a" stroke-width="2.4"/>
<line x1="859" y1="774.2" x2="865.9" y2="774.2" stroke="#1a1a1a" stroke-width="2.4"/>
<ellipse cx="812.4" cy="743.4" rx="1.3" ry="2.8" fill="#777" stroke="#1a1a1a" stroke-width="1.2"/>
<circle cx="812.4" cy="806" r="2.7" fill="#888" stroke="#1a1a1a" stroke-width="1.4"/>
<ellipse cx="862.5" cy="743.4" rx="1.3" ry="2.8" fill="#777" stroke="#1a1a1a" stroke-width="1.2"/>
<circle cx="862.5" cy="806" r="2.7" fill="#888" stroke="#1a1a1a" stroke-width="1.4"/>
<text transform="translate(833.3 716.2) scale(0.77 1)" font-size="25.5" text-anchor="middle" fill="#1a1a1a" stroke="#1a1a1a" stroke-width="0.53" >ON</text>
<text transform="translate(831.9 850.8) scale(0.72 1)" font-size="26.8" text-anchor="middle" fill="#1a1a1a" stroke="#1a1a1a" stroke-width="0.68" >OFF</text>
<rect x="741.5" y="899.5" width="192.4" height="50.4" rx="1.5" fill="none" stroke="#1a1a1a" stroke-width="2.2"/>
<rect x="745.2" y="903.6" width="185.1" height="42" rx="1" fill="none" stroke="#1a1a1a" stroke-width="1.6"/>
<line x1="822.6" y1="899.3" x2="853.6" y2="899.3" stroke="#1a1a1a" stroke-width="2.8"/>
<rect x="749.8" y="913.4" width="5.6" height="9.6" rx="1.5" fill="none" stroke="#1a1a1a" stroke-width="2.2"/>
<rect x="808.3" y="875.9" width="11.6" height="11.2" rx="1.2" fill="none" stroke="#1a1a1a" stroke-width="1.9"/>
<line x1="806.5" y1="881.5" x2="821.7" y2="881.5" stroke="#1a1a1a" stroke-width="1.5"/>
<line x1="814.1" y1="874.3" x2="814.1" y2="888.7" stroke="#1a1a1a" stroke-width="1.5"/>
<text transform="translate(979.6 728.5)" font-size="33" text-anchor="middle" fill="#1a1a1a" >N</text>
<line x1="837.6" y1="467.8" x2="837.6" y2="485" stroke="#1a1a1a" stroke-width="1.9"/>
<line x1="837.6" y1="495.5" x2="837.6" y2="504" stroke="#1a1a1a" stroke-width="1.9"/>
<line x1="837.6" y1="511" x2="837.6" y2="581" stroke="#1a1a1a" stroke-width="1.9"/>
<line x1="837.6" y1="588" x2="837.6" y2="783.5" stroke="#1a1a1a" stroke-width="1.9"/>
<line x1="837.6" y1="791.8" x2="837.6" y2="807.5" stroke="#1a1a1a" stroke-width="1.71"/>
<line x1="837.6" y1="811.8" x2="837.6" y2="855.4" stroke="#1a1a1a" stroke-width="1.71"/>
<line x1="837.6" y1="867.6" x2="837.6" y2="875.4" stroke="#1a1a1a" stroke-width="1.71"/>
<line x1="837.6" y1="885" x2="837.6" y2="932" stroke="#1a1a1a" stroke-width="1.71"/>
<line x1="837.6" y1="941.6" x2="837.6" y2="949.4" stroke="#1a1a1a" stroke-width="1.71"/>
<line x1="837.6" y1="959.9" x2="837.6" y2="1005.2" stroke="#1a1a1a" stroke-width="1.71"/>
<line x1="837.6" y1="1013.9" x2="837.6" y2="1025.2" stroke="#1a1a1a" stroke-width="1.71"/>
<line x1="837.6" y1="1033.9" x2="837.6" y2="1080.1" stroke="#1a1a1a" stroke-width="1.71"/>
<line x1="837.6" y1="1088.8" x2="837.6" y2="1095.8" stroke="#1a1a1a" stroke-width="1.71"/>
<line x1="837.6" y1="1106.2" x2="837.6" y2="1153.3" stroke="#1a1a1a" stroke-width="1.71"/>
<line x1="704.9" y1="814.5" x2="751.8" y2="814.5" stroke="#1a1a1a" stroke-width="1.4"/>
<line x1="759.5" y1="814.5" x2="1000" y2="814.5" stroke="#1a1a1a" stroke-width="1.4" stroke-dasharray="15 5.5 53 7.5"/>
<line x1="1004" y1="814.5" x2="1031.9" y2="814.5" stroke="#1a1a1a" stroke-width="1.4"/>
<circle cx="751" cy="517.7" r="9.6" fill="none" stroke="#1a1a1a" stroke-width="1.9"/>
<line x1="743.4" y1="517.7" x2="758.6" y2="517.7" stroke="#1a1a1a" stroke-width="1.3" stroke-dasharray="1.4 2.0"/>
<line x1="751" y1="510.1" x2="751" y2="525.3" stroke="#1a1a1a" stroke-width="1.3" stroke-dasharray="1.4 2.0"/>
<line x1="748.4" y1="517.7" x2="753.6" y2="517.7" stroke="#1a1a1a" stroke-width="1.3"/>
<line x1="751" y1="515.1" x2="751" y2="520.3" stroke="#1a1a1a" stroke-width="1.3"/>
<line x1="730" y1="517.7" x2="739.5" y2="517.7" stroke="#1a1a1a" stroke-width="1.8"/>
<line x1="762.5" y1="517.7" x2="772" y2="517.7" stroke="#1a1a1a" stroke-width="1.8"/>
<circle cx="751" cy="1111" r="9.6" fill="none" stroke="#1a1a1a" stroke-width="1.9"/>
<line x1="743.4" y1="1111" x2="758.6" y2="1111" stroke="#1a1a1a" stroke-width="1.3" stroke-dasharray="1.4 2.0"/>
<line x1="751" y1="1103.4" x2="751" y2="1118.6" stroke="#1a1a1a" stroke-width="1.3" stroke-dasharray="1.4 2.0"/>
<line x1="748.4" y1="1111" x2="753.6" y2="1111" stroke="#1a1a1a" stroke-width="1.3"/>
<line x1="751" y1="1108.4" x2="751" y2="1113.6" stroke="#1a1a1a" stroke-width="1.3"/>
<line x1="730" y1="1111" x2="739.5" y2="1111" stroke="#1a1a1a" stroke-width="1.8"/>
<line x1="762.5" y1="1111" x2="772" y2="1111" stroke="#1a1a1a" stroke-width="1.8"/>
<circle cx="751" cy="563.2" r="9.6" fill="none" stroke="#1a1a1a" stroke-width="1.9"/>
<line x1="743.4" y1="563.2" x2="758.6" y2="563.2" stroke="#1a1a1a" stroke-width="1.3" stroke-dasharray="1.4 2.0"/>
<line x1="751" y1="555.6" x2="751" y2="570.8" stroke="#1a1a1a" stroke-width="1.3" stroke-dasharray="1.4 2.0"/>
<line x1="748.4" y1="563.2" x2="753.6" y2="563.2" stroke="#1a1a1a" stroke-width="1.3"/>
<line x1="751" y1="560.6" x2="751" y2="565.8" stroke="#1a1a1a" stroke-width="1.3"/>
<line x1="730" y1="563.2" x2="739.5" y2="563.2" stroke="#1a1a1a" stroke-width="1.8"/>
<line x1="762.5" y1="563.2" x2="772" y2="563.2" stroke="#1a1a1a" stroke-width="1.8"/>
<circle cx="751" cy="1065.5" r="9.6" fill="none" stroke="#1a1a1a" stroke-width="1.9"/>
<line x1="743.4" y1="1065.5" x2="758.6" y2="1065.5" stroke="#1a1a1a" stroke-width="1.3" stroke-dasharray="1.4 2.0"/>
<line x1="751" y1="1057.9" x2="751" y2="1073.1" stroke="#1a1a1a" stroke-width="1.3" stroke-dasharray="1.4 2.0"/>
<line x1="748.4" y1="1065.5" x2="753.6" y2="1065.5" stroke="#1a1a1a" stroke-width="1.3"/>
<line x1="751" y1="1062.9" x2="751" y2="1068.1" stroke="#1a1a1a" stroke-width="1.3"/>
<line x1="730" y1="1065.5" x2="739.5" y2="1065.5" stroke="#1a1a1a" stroke-width="1.8"/>
<line x1="762.5" y1="1065.5" x2="772" y2="1065.5" stroke="#1a1a1a" stroke-width="1.8"/>
<line x1="751" y1="496.3" x2="751" y2="505.5" stroke="#1a1a1a" stroke-width="1.8"/>
<line x1="751" y1="1132.4" x2="751" y2="1123.2" stroke="#1a1a1a" stroke-width="1.8"/>
<line x1="751" y1="528" x2="751" y2="537.4" stroke="#1a1a1a" stroke-width="1.8"/>
<line x1="751" y1="1100.7" x2="751" y2="1091.3" stroke="#1a1a1a" stroke-width="1.8"/>
<line x1="751" y1="541.2" x2="751" y2="550.5" stroke="#1a1a1a" stroke-width="1.8"/>
<line x1="751" y1="1087.5" x2="751" y2="1078.2" stroke="#1a1a1a" stroke-width="1.8"/>
<line x1="751" y1="574.5" x2="751" y2="584.3" stroke="#1a1a1a" stroke-width="1.8"/>
<line x1="751" y1="1054.2" x2="751" y2="1044.4" stroke="#1a1a1a" stroke-width="1.8"/>
<circle cx="831.1" cy="517.7" r="9.6" fill="none" stroke="#1a1a1a" stroke-width="1.9"/>
<line x1="823.5" y1="517.7" x2="838.7" y2="517.7" stroke="#1a1a1a" stroke-width="1.3" stroke-dasharray="1.4 2.0"/>
<line x1="831.1" y1="510.1" x2="831.1" y2="525.3" stroke="#1a1a1a" stroke-width="1.3" stroke-dasharray="1.4 2.0"/>
<line x1="828.5" y1="517.7" x2="833.7" y2="517.7" stroke="#1a1a1a" stroke-width="1.3"/>
<line x1="831.1" y1="515.1" x2="831.1" y2="520.3" stroke="#1a1a1a" stroke-width="1.3"/>
<line x1="810.1" y1="517.7" x2="819.6" y2="517.7" stroke="#1a1a1a" stroke-width="1.8"/>
<line x1="842.6" y1="517.7" x2="852.1" y2="517.7" stroke="#1a1a1a" stroke-width="1.8"/>
<circle cx="831.1" cy="1111" r="9.6" fill="none" stroke="#1a1a1a" stroke-width="1.9"/>
<line x1="823.5" y1="1111" x2="838.7" y2="1111" stroke="#1a1a1a" stroke-width="1.3" stroke-dasharray="1.4 2.0"/>
<line x1="831.1" y1="1103.4" x2="831.1" y2="1118.6" stroke="#1a1a1a" stroke-width="1.3" stroke-dasharray="1.4 2.0"/>
<line x1="828.5" y1="1111" x2="833.7" y2="1111" stroke="#1a1a1a" stroke-width="1.3"/>
<line x1="831.1" y1="1108.4" x2="831.1" y2="1113.6" stroke="#1a1a1a" stroke-width="1.3"/>
<line x1="810.1" y1="1111" x2="819.6" y2="1111" stroke="#1a1a1a" stroke-width="1.8"/>
<line x1="842.6" y1="1111" x2="852.1" y2="1111" stroke="#1a1a1a" stroke-width="1.8"/>
<circle cx="831.1" cy="563.2" r="9.6" fill="none" stroke="#1a1a1a" stroke-width="1.9"/>
<line x1="823.5" y1="563.2" x2="838.7" y2="563.2" stroke="#1a1a1a" stroke-width="1.3" stroke-dasharray="1.4 2.0"/>
<line x1="831.1" y1="555.6" x2="831.1" y2="570.8" stroke="#1a1a1a" stroke-width="1.3" stroke-dasharray="1.4 2.0"/>
<line x1="828.5" y1="563.2" x2="833.7" y2="563.2" stroke="#1a1a1a" stroke-width="1.3"/>
<line x1="831.1" y1="560.6" x2="831.1" y2="565.8" stroke="#1a1a1a" stroke-width="1.3"/>
<line x1="810.1" y1="563.2" x2="819.6" y2="563.2" stroke="#1a1a1a" stroke-width="1.8"/>
<line x1="842.6" y1="563.2" x2="852.1" y2="563.2" stroke="#1a1a1a" stroke-width="1.8"/>
<circle cx="831.1" cy="1065.5" r="9.6" fill="none" stroke="#1a1a1a" stroke-width="1.9"/>
<line x1="823.5" y1="1065.5" x2="838.7" y2="1065.5" stroke="#1a1a1a" stroke-width="1.3" stroke-dasharray="1.4 2.0"/>
<line x1="831.1" y1="1057.9" x2="831.1" y2="1073.1" stroke="#1a1a1a" stroke-width="1.3" stroke-dasharray="1.4 2.0"/>
<line x1="828.5" y1="1065.5" x2="833.7" y2="1065.5" stroke="#1a1a1a" stroke-width="1.3"/>
<line x1="831.1" y1="1062.9" x2="831.1" y2="1068.1" stroke="#1a1a1a" stroke-width="1.3"/>
<line x1="810.1" y1="1065.5" x2="819.6" y2="1065.5" stroke="#1a1a1a" stroke-width="1.8"/>
<line x1="842.6" y1="1065.5" x2="852.1" y2="1065.5" stroke="#1a1a1a" stroke-width="1.8"/>
<line x1="831.1" y1="496.3" x2="831.1" y2="505.5" stroke="#1a1a1a" stroke-width="1.8"/>
<line x1="831.1" y1="1132.4" x2="831.1" y2="1123.2" stroke="#1a1a1a" stroke-width="1.8"/>
<line x1="831.1" y1="528" x2="831.1" y2="537.4" stroke="#1a1a1a" stroke-width="1.8"/>
<line x1="831.1" y1="1100.7" x2="831.1" y2="1091.3" stroke="#1a1a1a" stroke-width="1.8"/>
<line x1="831.1" y1="541.2" x2="831.1" y2="550.5" stroke="#1a1a1a" stroke-width="1.8"/>
<line x1="831.1" y1="1087.5" x2="831.1" y2="1078.2" stroke="#1a1a1a" stroke-width="1.8"/>
<line x1="831.1" y1="574.5" x2="831.1" y2="584.3" stroke="#1a1a1a" stroke-width="1.8"/>
<line x1="831.1" y1="1054.2" x2="831.1" y2="1044.4" stroke="#1a1a1a" stroke-width="1.8"/>
<circle cx="911.4" cy="517.7" r="9.6" fill="none" stroke="#1a1a1a" stroke-width="1.9"/>
<line x1="903.8" y1="517.7" x2="919" y2="517.7" stroke="#1a1a1a" stroke-width="1.3" stroke-dasharray="1.4 2.0"/>
<line x1="911.4" y1="510.1" x2="911.4" y2="525.3" stroke="#1a1a1a" stroke-width="1.3" stroke-dasharray="1.4 2.0"/>
<line x1="908.8" y1="517.7" x2="914" y2="517.7" stroke="#1a1a1a" stroke-width="1.3"/>
<line x1="911.4" y1="515.1" x2="911.4" y2="520.3" stroke="#1a1a1a" stroke-width="1.3"/>
<line x1="890.4" y1="517.7" x2="899.9" y2="517.7" stroke="#1a1a1a" stroke-width="1.8"/>
<line x1="922.9" y1="517.7" x2="932.4" y2="517.7" stroke="#1a1a1a" stroke-width="1.8"/>
<circle cx="911.4" cy="1111" r="9.6" fill="none" stroke="#1a1a1a" stroke-width="1.9"/>
<line x1="903.8" y1="1111" x2="919" y2="1111" stroke="#1a1a1a" stroke-width="1.3" stroke-dasharray="1.4 2.0"/>
<line x1="911.4" y1="1103.4" x2="911.4" y2="1118.6" stroke="#1a1a1a" stroke-width="1.3" stroke-dasharray="1.4 2.0"/>
<line x1="908.8" y1="1111" x2="914" y2="1111" stroke="#1a1a1a" stroke-width="1.3"/>
<line x1="911.4" y1="1108.4" x2="911.4" y2="1113.6" stroke="#1a1a1a" stroke-width="1.3"/>
<line x1="890.4" y1="1111" x2="899.9" y2="1111" stroke="#1a1a1a" stroke-width="1.8"/>
<line x1="922.9" y1="1111" x2="932.4" y2="1111" stroke="#1a1a1a" stroke-width="1.8"/>
<circle cx="911.4" cy="563.2" r="9.6" fill="none" stroke="#1a1a1a" stroke-width="1.9"/>
<line x1="903.8" y1="563.2" x2="919" y2="563.2" stroke="#1a1a1a" stroke-width="1.3" stroke-dasharray="1.4 2.0"/>
<line x1="911.4" y1="555.6" x2="911.4" y2="570.8" stroke="#1a1a1a" stroke-width="1.3" stroke-dasharray="1.4 2.0"/>
<line x1="908.8" y1="563.2" x2="914" y2="563.2" stroke="#1a1a1a" stroke-width="1.3"/>
<line x1="911.4" y1="560.6" x2="911.4" y2="565.8" stroke="#1a1a1a" stroke-width="1.3"/>
<line x1="890.4" y1="563.2" x2="899.9" y2="563.2" stroke="#1a1a1a" stroke-width="1.8"/>
<line x1="922.9" y1="563.2" x2="932.4" y2="563.2" stroke="#1a1a1a" stroke-width="1.8"/>
<circle cx="911.4" cy="1065.5" r="9.6" fill="none" stroke="#1a1a1a" stroke-width="1.9"/>
<line x1="903.8" y1="1065.5" x2="919" y2="1065.5" stroke="#1a1a1a" stroke-width="1.3" stroke-dasharray="1.4 2.0"/>
<line x1="911.4" y1="1057.9" x2="911.4" y2="1073.1" stroke="#1a1a1a" stroke-width="1.3" stroke-dasharray="1.4 2.0"/>
<line x1="908.8" y1="1065.5" x2="914" y2="1065.5" stroke="#1a1a1a" stroke-width="1.3"/>
<line x1="911.4" y1="1062.9" x2="911.4" y2="1068.1" stroke="#1a1a1a" stroke-width="1.3"/>
<line x1="890.4" y1="1065.5" x2="899.9" y2="1065.5" stroke="#1a1a1a" stroke-width="1.8"/>
<line x1="922.9" y1="1065.5" x2="932.4" y2="1065.5" stroke="#1a1a1a" stroke-width="1.8"/>
<line x1="911.4" y1="496.3" x2="911.4" y2="505.5" stroke="#1a1a1a" stroke-width="1.8"/>
<line x1="911.4" y1="1132.4" x2="911.4" y2="1123.2" stroke="#1a1a1a" stroke-width="1.8"/>
<line x1="911.4" y1="528" x2="911.4" y2="537.4" stroke="#1a1a1a" stroke-width="1.8"/>
<line x1="911.4" y1="1100.7" x2="911.4" y2="1091.3" stroke="#1a1a1a" stroke-width="1.8"/>
<line x1="911.4" y1="541.2" x2="911.4" y2="550.5" stroke="#1a1a1a" stroke-width="1.8"/>
<line x1="911.4" y1="1087.5" x2="911.4" y2="1078.2" stroke="#1a1a1a" stroke-width="1.8"/>
<line x1="911.4" y1="574.5" x2="911.4" y2="584.3" stroke="#1a1a1a" stroke-width="1.8"/>
<line x1="911.4" y1="1054.2" x2="911.4" y2="1044.4" stroke="#1a1a1a" stroke-width="1.8"/>
<circle cx="990.6" cy="517.7" r="9.6" fill="none" stroke="#1a1a1a" stroke-width="1.9"/>
<line x1="983" y1="517.7" x2="998.2" y2="517.7" stroke="#1a1a1a" stroke-width="1.3" stroke-dasharray="1.4 2.0"/>
<line x1="990.6" y1="510.1" x2="990.6" y2="525.3" stroke="#1a1a1a" stroke-width="1.3" stroke-dasharray="1.4 2.0"/>
<line x1="988" y1="517.7" x2="993.2" y2="517.7" stroke="#1a1a1a" stroke-width="1.3"/>
<line x1="990.6" y1="515.1" x2="990.6" y2="520.3" stroke="#1a1a1a" stroke-width="1.3"/>
<line x1="969.6" y1="517.7" x2="979.1" y2="517.7" stroke="#1a1a1a" stroke-width="1.8"/>
<line x1="1002.1" y1="517.7" x2="1011.6" y2="517.7" stroke="#1a1a1a" stroke-width="1.8"/>
<circle cx="990.6" cy="1111" r="9.6" fill="none" stroke="#1a1a1a" stroke-width="1.9"/>
<line x1="983" y1="1111" x2="998.2" y2="1111" stroke="#1a1a1a" stroke-width="1.3" stroke-dasharray="1.4 2.0"/>
<line x1="990.6" y1="1103.4" x2="990.6" y2="1118.6" stroke="#1a1a1a" stroke-width="1.3" stroke-dasharray="1.4 2.0"/>
<line x1="988" y1="1111" x2="993.2" y2="1111" stroke="#1a1a1a" stroke-width="1.3"/>
<line x1="990.6" y1="1108.4" x2="990.6" y2="1113.6" stroke="#1a1a1a" stroke-width="1.3"/>
<line x1="969.6" y1="1111" x2="979.1" y2="1111" stroke="#1a1a1a" stroke-width="1.8"/>
<line x1="1002.1" y1="1111" x2="1011.6" y2="1111" stroke="#1a1a1a" stroke-width="1.8"/>
<circle cx="990.6" cy="563.2" r="9.6" fill="none" stroke="#1a1a1a" stroke-width="1.9"/>
<line x1="983" y1="563.2" x2="998.2" y2="563.2" stroke="#1a1a1a" stroke-width="1.3" stroke-dasharray="1.4 2.0"/>
<line x1="990.6" y1="555.6" x2="990.6" y2="570.8" stroke="#1a1a1a" stroke-width="1.3" stroke-dasharray="1.4 2.0"/>
<line x1="988" y1="563.2" x2="993.2" y2="563.2" stroke="#1a1a1a" stroke-width="1.3"/>
<line x1="990.6" y1="560.6" x2="990.6" y2="565.8" stroke="#1a1a1a" stroke-width="1.3"/>
<line x1="969.6" y1="563.2" x2="979.1" y2="563.2" stroke="#1a1a1a" stroke-width="1.8"/>
<line x1="1002.1" y1="563.2" x2="1011.6" y2="563.2" stroke="#1a1a1a" stroke-width="1.8"/>
<circle cx="990.6" cy="1065.5" r="9.6" fill="none" stroke="#1a1a1a" stroke-width="1.9"/>
<line x1="983" y1="1065.5" x2="998.2" y2="1065.5" stroke="#1a1a1a" stroke-width="1.3" stroke-dasharray="1.4 2.0"/>
<line x1="990.6" y1="1057.9" x2="990.6" y2="1073.1" stroke="#1a1a1a" stroke-width="1.3" stroke-dasharray="1.4 2.0"/>
<line x1="988" y1="1065.5" x2="993.2" y2="1065.5" stroke="#1a1a1a" stroke-width="1.3"/>
<line x1="990.6" y1="1062.9" x2="990.6" y2="1068.1" stroke="#1a1a1a" stroke-width="1.3"/>
<line x1="969.6" y1="1065.5" x2="979.1" y2="1065.5" stroke="#1a1a1a" stroke-width="1.8"/>
<line x1="1002.1" y1="1065.5" x2="1011.6" y2="1065.5" stroke="#1a1a1a" stroke-width="1.8"/>
<line x1="990.6" y1="496.3" x2="990.6" y2="505.5" stroke="#1a1a1a" stroke-width="1.8"/>
<line x1="990.6" y1="1132.4" x2="990.6" y2="1123.2" stroke="#1a1a1a" stroke-width="1.8"/>
<line x1="990.6" y1="528" x2="990.6" y2="537.4" stroke="#1a1a1a" stroke-width="1.8"/>
<line x1="990.6" y1="1100.7" x2="990.6" y2="1091.3" stroke="#1a1a1a" stroke-width="1.8"/>
<line x1="990.6" y1="541.2" x2="990.6" y2="550.5" stroke="#1a1a1a" stroke-width="1.8"/>
<line x1="990.6" y1="1087.5" x2="990.6" y2="1078.2" stroke="#1a1a1a" stroke-width="1.8"/>
<line x1="990.6" y1="574.5" x2="990.6" y2="584.3" stroke="#1a1a1a" stroke-width="1.8"/>
<line x1="990.6" y1="1054.2" x2="990.6" y2="1044.4" stroke="#1a1a1a" stroke-width="1.8"/>
<line x1="730.9" y1="342.9" x2="730.9" y2="618" stroke="#8a8a8a" stroke-width="1"/>
<line x1="1011.1" y1="342.9" x2="1011.1" y2="618" stroke="#8a8a8a" stroke-width="1"/>
<line x1="743.5" y1="346.9" x2="998.5" y2="346.9" stroke="#1a1a1a" stroke-width="1.8"/>
<polygon points="730.9,346.9 751.9,343.15 751.9,350.65" fill="#1a1a1a"/>
<polygon points="1011.1,346.9 990.1,350.65 990.1,343.15" fill="#1a1a1a"/>
<text transform="translate(874.8 344)" font-size="25.5" text-anchor="middle" fill="#1a1a1a" >184</text>
<line x1="751" y1="369.7" x2="751" y2="494" stroke="#444" stroke-width="1.1"/>
<line x1="990.6" y1="369.7" x2="990.6" y2="494" stroke="#8a8a8a" stroke-width="1"/>
<line x1="763.6" y1="372.7" x2="978" y2="372.7" stroke="#1a1a1a" stroke-width="1.8"/>
<polygon points="751,372.7 772,368.95 772,376.45" fill="#1a1a1a"/>
<polygon points="990.6,372.7 969.6,376.45 969.6,368.95" fill="#1a1a1a"/>
<text transform="translate(876.8 370.8)" font-size="25.5" text-anchor="middle" fill="#1a1a1a" >157.5</text>
<line x1="770.3" y1="395.5" x2="770.3" y2="628" stroke="#1a1a1a" stroke-width="1.2"/>
<line x1="971.5" y1="395.5" x2="971.5" y2="628" stroke="#1a1a1a" stroke-width="1.2"/>
<line x1="782.9" y1="398.9" x2="958.9" y2="398.9" stroke="#1a1a1a" stroke-width="1.8"/>
<polygon points="770.3,398.9 791.3,395.15 791.3,402.65" fill="#1a1a1a"/>
<polygon points="971.5,398.9 950.5,402.65 950.5,395.15" fill="#1a1a1a"/>
<text transform="translate(875 396.4)" font-size="25.5" text-anchor="middle" fill="#1a1a1a" >132</text>
<line x1="831.1" y1="425.3" x2="831.1" y2="494" stroke="#8a8a8a" stroke-width="0.9"/>
<line x1="911.4" y1="425.3" x2="911.4" y2="494" stroke="#8a8a8a" stroke-width="0.9"/>
<line x1="843.7" y1="429.5" x2="898.8" y2="429.5" stroke="#1a1a1a" stroke-width="1.8"/>
<polygon points="831.1,429.5 852.1,425.75 852.1,433.25" fill="#1a1a1a"/>
<polygon points="911.4,429.5 890.4,433.25 890.4,425.75" fill="#1a1a1a"/>
<text transform="translate(875.4 426.1)" font-size="25.5" text-anchor="middle" fill="#1a1a1a" >52.5</text>
<text transform="translate(654.8 662.5) scale(0.79 1)" font-size="26.5" text-anchor="start" fill="#1a1a1a" stroke="#1a1a1a" stroke-width="0.5" >M10</text>
<path d="M656 666.4H707.5L731 656.6" fill="none" stroke="#1a1a1a" stroke-width="1.7" />
<polygon points="761.1,643.7 745.06,654.4 742.42,648.46" fill="#1a1a1a"/>
<polygon points="779.6,637.6 795.64,626.9 798.28,632.84" fill="#1a1a1a"/>
<line x1="731" y1="656.6" x2="745" y2="650.8" stroke="#1a1a1a" stroke-width="1.7"/>
<text transform="translate(839.7 304)" font-size="34.5" text-anchor="middle" fill="#1a1a1a" >Y</text>
<text transform="translate(839.7 1267.8)" font-size="34.5" text-anchor="middle" fill="#1a1a1a" >Y</text>
<text transform="translate(695.5 823.2)" font-size="33.5" text-anchor="middle" fill="#1a1a1a" >X</text>
<text transform="translate(1047.9 823.2)" font-size="33.5" text-anchor="middle" fill="#1a1a1a" >X</text>
<text transform="translate(1052.2 1097.7)" font-size="15.8" text-anchor="start" fill="#1a1a1a" letter-spacing="0.02" >Межфазная</text>
<text transform="translate(1052.2 1115.5)" font-size="15.8" text-anchor="start" fill="#1a1a1a" letter-spacing="0.02" >перегородка</text>
<path d="M1177 614.5V458.5Q1177 455.5 1180 455.5H1315.2Q1318.2 455.5 1318.2 458.5V614.5Z" fill="#e1e1e1" stroke="none" stroke-width="0" />
<path d="M1177 1014.5V1170.2Q1177 1173.2 1180 1173.2H1315.2Q1318.2 1173.2 1318.2 1170.2V1014.5Z" fill="#e1e1e1" stroke="none" stroke-width="0" />
<rect x="1177" y="614.5" width="141.2" height="400" fill="#e1e1e1"/>
<path d="M1344.5 695A146.2 146.2 0 0 1 1344.5 873Z" fill="#e1e1e1" stroke="#1a1a1a" stroke-width="1.6" />
<path d="M1373.2 764.6L1418.3 765.3A8.6 8.6 0 1 1 1418.3 780.4L1375.6 784.4Z" fill="#e1e1e1" stroke="#1a1a1a" stroke-width="1.6" />
<path d="M1318.2 662.7H1334.3Q1336.3 662.7 1336.5 665L1338 678.7H1344.5V949.5H1330.3V953.6A13 13 0 1 1 1318.2 939.7Z" fill="#e1e1e1" stroke="#1a1a1a" stroke-width="1.6" />
<line x1="1344.5" y1="949.5" x2="1344.5" y2="1020.7" stroke="#1a1a1a" stroke-width="1.4"/>
<line x1="1337.2" y1="949.5" x2="1337.2" y2="1020.2" stroke="#1a1a1a" stroke-width="1.5"/>
<line x1="1318.2" y1="966.9" x2="1337.2" y2="966.9" stroke="#1a1a1a" stroke-width="1.3"/>
<rect x="1206.3" y="618.8" width="10.2" height="49.2" rx="1.2" fill="#e8e8e8" stroke="#555" stroke-width="1.1" stroke-dasharray="1.5 1.2"/>
<rect x="1201.6" y="961" width="9.9" height="49" rx="1.2" fill="#e8e8e8" stroke="#555" stroke-width="1.1" stroke-dasharray="1.5 1.2"/>
<path d="M1177 1173.2M1177 614.5V458.5Q1177 455.5 1180 455.5H1315.2Q1318.2 455.5 1318.2 458.5" fill="none" stroke="#1a1a1a" stroke-width="1.6" />
<line x1="1318.2" y1="458.5" x2="1318.2" y2="614.5" stroke="#666" stroke-width="1.1"/>
<path d="M1177 1014.5V1170.2Q1177 1173.2 1180 1173.2H1315.2Q1318.2 1173.2 1318.2 1170.2V1014.5" fill="none" stroke="#1a1a1a" stroke-width="1.6" />
<line x1="1177" y1="614.5" x2="1177" y2="1014.5" stroke="#1a1a1a" stroke-width="1.7"/>
<line x1="1283" y1="618.2" x2="1283" y2="1010" stroke="#1a1a1a" stroke-width="1.7"/>
<line x1="1318.2" y1="618.2" x2="1318.2" y2="939.7" stroke="#1a1a1a" stroke-width="1.7"/>
<line x1="1318.2" y1="966.9" x2="1318.2" y2="1014.5" stroke="#1a1a1a" stroke-width="1.7"/>
<line x1="1177" y1="614.6" x2="1318.2" y2="614.6" stroke="#1a1a1a" stroke-width="2.8"/>
<line x1="1177" y1="618.4" x2="1318.2" y2="618.4" stroke="#1a1a1a" stroke-width="1.3"/>
<line x1="1177" y1="628.6" x2="1318.2" y2="628.6" stroke="#1a1a1a" stroke-width="1.5"/>
<line x1="1283" y1="620.8" x2="1318.2" y2="620.8" stroke="#1a1a1a" stroke-width="1"/>
<line x1="1283" y1="624" x2="1318.2" y2="624" stroke="#1a1a1a" stroke-width="1"/>
<line x1="1283" y1="900" x2="1318.2" y2="900" stroke="#1a1a1a" stroke-width="1.6"/>
<line x1="1177" y1="1000.4" x2="1318.2" y2="1000.4" stroke="#1a1a1a" stroke-width="1.4"/>
<line x1="1283" y1="1006" x2="1318.2" y2="1006" stroke="#1a1a1a" stroke-width="1.1"/>
<line x1="1177" y1="1010" x2="1318.2" y2="1010" stroke="#1a1a1a" stroke-width="2.2"/>
<line x1="1177" y1="1014.7" x2="1318.2" y2="1014.7" stroke="#1a1a1a" stroke-width="2.5"/>
<line x1="1344.5" y1="695" x2="1344.5" y2="873" stroke="#1a1a1a" stroke-width="2.6"/>
<path d="M1345.5 698Q1351 707 1353.6 715.4" fill="none" stroke="#1a1a1a" stroke-width="1.3" />
<path d="M1349.6 715.4A227 227 0 0 1 1346.5 838.9" fill="none" stroke="#1a1a1a" stroke-width="1.4" />
<rect x="1305.6" y="647.8" width="12.6" height="14.9" rx="0.8" fill="#e1e1e1" stroke="#1a1a1a" stroke-width="1.6"/>
<line x1="1307.6" y1="647.8" x2="1307.6" y2="662.7" stroke="#1a1a1a" stroke-width="1"/>
<path d="M1308 649.8Q1312.5 655.25 1308 660.7" fill="none" stroke="#666" stroke-width="1" />
<rect x="1305.6" y="966.6" width="12.6" height="13.9" rx="0.8" fill="#e1e1e1" stroke="#1a1a1a" stroke-width="1.6"/>
<line x1="1307.6" y1="966.6" x2="1307.6" y2="980.5" stroke="#1a1a1a" stroke-width="1"/>
<path d="M1308 968.6Q1312.5 973.55 1308 978.5" fill="none" stroke="#666" stroke-width="1" />
<rect x="1318.2" y="704.2" width="16.1" height="38.3" rx="0.5" fill="#333" stroke="#1a1a1a" stroke-width="1.2"/>
<line x1="1319.7" y1="706.6" x2="1331.7" y2="706.6" stroke="#9a9a9a" stroke-width="0.7"/>
<line x1="1319.7" y1="709" x2="1331.7" y2="709" stroke="#9a9a9a" stroke-width="0.7"/>
<line x1="1319.7" y1="711.4" x2="1331.7" y2="711.4" stroke="#9a9a9a" stroke-width="0.7"/>
<line x1="1319.7" y1="713.8" x2="1331.7" y2="713.8" stroke="#9a9a9a" stroke-width="0.7"/>
<line x1="1319.7" y1="716.2" x2="1331.7" y2="716.2" stroke="#9a9a9a" stroke-width="0.7"/>
<line x1="1319.7" y1="718.6" x2="1331.7" y2="718.6" stroke="#9a9a9a" stroke-width="0.7"/>
<line x1="1319.7" y1="721" x2="1331.7" y2="721" stroke="#9a9a9a" stroke-width="0.7"/>
<line x1="1319.7" y1="723.4" x2="1331.7" y2="723.4" stroke="#9a9a9a" stroke-width="0.7"/>
<line x1="1319.7" y1="725.8" x2="1331.7" y2="725.8" stroke="#9a9a9a" stroke-width="0.7"/>
<line x1="1319.7" y1="728.2" x2="1331.7" y2="728.2" stroke="#9a9a9a" stroke-width="0.7"/>
<line x1="1319.7" y1="730.6" x2="1331.7" y2="730.6" stroke="#9a9a9a" stroke-width="0.7"/>
<line x1="1319.7" y1="733" x2="1331.7" y2="733" stroke="#9a9a9a" stroke-width="0.7"/>
<line x1="1319.7" y1="735.4" x2="1331.7" y2="735.4" stroke="#9a9a9a" stroke-width="0.7"/>
<line x1="1319.7" y1="737.8" x2="1331.7" y2="737.8" stroke="#9a9a9a" stroke-width="0.7"/>
<line x1="1319.7" y1="740.2" x2="1331.7" y2="740.2" stroke="#9a9a9a" stroke-width="0.7"/>
<rect x="1319" y="719.8" width="13.5" height="6.8" fill="#e8e8e8"/>
<rect x="1318.2" y="849" width="16.1" height="17.6" rx="0.5" fill="#333" stroke="#1a1a1a" stroke-width="1.2"/>
<line x1="1319.7" y1="851.4" x2="1331.7" y2="851.4" stroke="#9a9a9a" stroke-width="0.7"/>
<line x1="1319.7" y1="853.8" x2="1331.7" y2="853.8" stroke="#9a9a9a" stroke-width="0.7"/>
<line x1="1319.7" y1="856.2" x2="1331.7" y2="856.2" stroke="#9a9a9a" stroke-width="0.7"/>
<line x1="1319.7" y1="858.6" x2="1331.7" y2="858.6" stroke="#9a9a9a" stroke-width="0.7"/>
<line x1="1319.7" y1="861" x2="1331.7" y2="861" stroke="#9a9a9a" stroke-width="0.7"/>
<line x1="1319.7" y1="863.4" x2="1331.7" y2="863.4" stroke="#9a9a9a" stroke-width="0.7"/>
<path d="M1234 492.9H1253.1V589.2L1250.7 595.6L1234.6 618.4H1216.5V613.2L1234 588.2Z" fill="#e1e1e1" stroke="#1a1a1a" stroke-width="1.5" />
<line x1="1230.3" y1="595.6" x2="1250.7" y2="595.6" stroke="#1a1a1a" stroke-width="1.3"/>
<path d="M1253.1 524H1267.6Q1270.1 524 1270.1 526.5Q1270.1 529 1267.6 529H1253.1" fill="#e1e1e1" stroke="#1a1a1a" stroke-width="1.4" />
<circle cx="1232.7" cy="526.3" r="1.9" fill="#e1e1e1" stroke="#1a1a1a" stroke-width="1.2"/>
<path d="M1211 1010H1230.2L1248 1035.5V1136.2H1228.8V1041.4L1211 1014.9Z" fill="#e1e1e1" stroke="#1a1a1a" stroke-width="1.6" />
<line x1="1228.8" y1="1035.2" x2="1248" y2="1035.2" stroke="#1a1a1a" stroke-width="1.3"/>
<path d="M1248 1100.6H1267.1Q1269.6 1100.6 1269.6 1103.3Q1269.6 1106 1267.1 1106H1248" fill="#e1e1e1" stroke="#1a1a1a" stroke-width="1.4" />
<line x1="1147.4" y1="814.6" x2="1193.8" y2="814.6" stroke="#1a1a1a" stroke-width="1.4"/>
<line x1="1203.6" y1="814.6" x2="1212.3" y2="814.6" stroke="#1a1a1a" stroke-width="1.4"/>
<line x1="1220.9" y1="814.6" x2="1272.7" y2="814.6" stroke="#1a1a1a" stroke-width="1.4"/>
<line x1="1277.7" y1="814.6" x2="1286.3" y2="814.6" stroke="#1a1a1a" stroke-width="1.4"/>
<line x1="1296.2" y1="814.6" x2="1361.6" y2="814.6" stroke="#1a1a1a" stroke-width="1.4"/>
<line x1="1367.7" y1="814.6" x2="1373.9" y2="814.6" stroke="#1a1a1a" stroke-width="1.4"/>
<line x1="1378.8" y1="814.6" x2="1396.1" y2="814.6" stroke="#1a1a1a" stroke-width="1.4"/>
<line x1="1176.8" y1="356.5" x2="1176.8" y2="455.5" stroke="#1a1a1a" stroke-width="1.2"/>
<line x1="1432.8" y1="356.5" x2="1432.8" y2="772" stroke="#1a1a1a" stroke-width="1.1"/>
<line x1="1189.4" y1="368.9" x2="1420.2" y2="368.9" stroke="#1a1a1a" stroke-width="1.8"/>
<polygon points="1176.8,368.9 1197.8,365.15 1197.8,372.65" fill="#1a1a1a"/>
<polygon points="1432.8,368.9 1411.8,372.65 1411.8,365.15" fill="#1a1a1a"/>
<text transform="translate(1309 366.1)" font-size="25.5" text-anchor="middle" fill="#1a1a1a" >168.4</text>
<line x1="1343.9" y1="394" x2="1343.9" y2="679" stroke="#1a1a1a" stroke-width="1.1"/>
<line x1="1189.4" y1="404.4" x2="1331.3" y2="404.4" stroke="#1a1a1a" stroke-width="1.8"/>
<polygon points="1176.8,404.4 1197.8,400.65 1197.8,408.15" fill="#1a1a1a"/>
<polygon points="1343.9,404.4 1322.9,408.15 1322.9,400.65" fill="#1a1a1a"/>
<text transform="translate(1262.8 401)" font-size="25.5" text-anchor="middle" fill="#1a1a1a" >110</text>
<line x1="1252.9" y1="426.6" x2="1252.9" y2="493" stroke="#1a1a1a" stroke-width="1.2"/>
<line x1="1189.4" y1="439.2" x2="1240.3" y2="439.2" stroke="#1a1a1a" stroke-width="1.8"/>
<polygon points="1176.8,439.2 1197.8,435.45 1197.8,442.95" fill="#1a1a1a"/>
<polygon points="1252.9,439.2 1231.9,442.95 1231.9,435.45" fill="#1a1a1a"/>
<text transform="translate(1216.2 434.7)" font-size="25.5" text-anchor="middle" fill="#1a1a1a" >50</text>
<line x1="1234" y1="480" x2="1234" y2="493" stroke="#1a1a1a" stroke-width="1.1"/>
<line x1="1208.5" y1="483.3" x2="1234" y2="483.3" stroke="#1a1a1a" stroke-width="1.3"/>
<line x1="1253.1" y1="483.3" x2="1280.7" y2="483.3" stroke="#1a1a1a" stroke-width="1.3"/>
<line x1="1234" y1="483.3" x2="1253.1" y2="483.3" stroke="#1a1a1a" stroke-width="0.8"/>
<polygon points="1234,483.3 1215,486.3 1215,480.3" fill="#1a1a1a"/>
<polygon points="1253.1,483.3 1272.1,480.3 1272.1,486.3" fill="#1a1a1a"/>
<text transform="translate(1239.5 476.3)" font-size="24" text-anchor="middle" fill="#1a1a1a" >12</text>
<line x1="1216.5" y1="581.8" x2="1216.5" y2="613" stroke="#1a1a1a" stroke-width="1.1"/>
<polygon points="1177,585.1 1199,581.85 1199,588.35" fill="#1a1a1a"/>
<polygon points="1216.5,585.1 1194.5,588.35 1194.5,581.85" fill="#1a1a1a"/>
<text transform="translate(1198.2 580.3)" font-size="25" text-anchor="middle" fill="#1a1a1a" >26</text>
<line x1="1318.5" y1="1012.4" x2="1337.2" y2="1012.4" stroke="#1a1a1a" stroke-width="1.2"/>
<polygon points="1337.2,1012.4 1318.2,1015.4 1318.2,1009.4" fill="#1a1a1a"/>
<polygon points="1344.5,1012.4 1363.5,1009.4 1363.5,1015.4" fill="#1a1a1a"/>
<line x1="1344.5" y1="1012.4" x2="1390.2" y2="1012.4" stroke="#1a1a1a" stroke-width="1.3"/>
<text transform="translate(1372.4 1008.8)" font-size="23.5" text-anchor="middle" fill="#1a1a1a" >4.5</text>
<line x1="1344.3" y1="1020.7" x2="1344.3" y2="1119" stroke="#8a8a8a" stroke-width="1"/>
<line x1="1292.4" y1="1104.2" x2="1318.5" y2="1104.2" stroke="#1a1a1a" stroke-width="1.3"/>
<line x1="1318.5" y1="1104.2" x2="1344.3" y2="1104.2" stroke="#1a1a1a" stroke-width="0.8"/>
<line x1="1344.3" y1="1104.2" x2="1390.2" y2="1104.2" stroke="#1a1a1a" stroke-width="1.3"/>
<polygon points="1318.5,1104.2 1299.5,1107.2 1299.5,1101.2" fill="#1a1a1a"/>
<polygon points="1344.3,1104.2 1363.3,1101.2 1363.3,1107.2" fill="#1a1a1a"/>
<text transform="translate(1332.7 1099.2)" font-size="25.5" text-anchor="middle" fill="#1a1a1a" >17</text>
<path d="M1035.4 1123.4H1162.5L1180 1113" fill="none" stroke="#1a1a1a" stroke-width="1.7" />
<polygon points="1194.7,1104.2 1178.38,1117.87 1174.83,1111.84" fill="#1a1a1a"/>
<text transform="translate(542.3 383)" font-size="17.2" text-anchor="start" fill="#1a1a1a" letter-spacing="1.45" >(Макс. размер шин)</text>
<path d="M614.4 432.8H708A59.4 59.4 0 1 1 614.4 432.8Z" fill="none" stroke="#1a1a1a" stroke-width="1.6" />
<circle cx="661.2" cy="469.1" r="13.9" fill="none" stroke="#1a1a1a" stroke-width="1.6"/>
<line x1="661.1" y1="429.1" x2="661.1" y2="528.5" stroke="#1a1a1a" stroke-width="1.7"/>
<path d="M618.8 411.8V491.8Q619 497.5 622.4 500.5Q623.6 502 623.6 505V552" fill="none" stroke="#1a1a1a" stroke-width="1.5" />
<path d="M703.6 411.8V491.8Q703.4 497.5 700.4 500.5Q699.2 502 699.2 505V552" fill="none" stroke="#1a1a1a" stroke-width="1.5" />
<line x1="589.3" y1="492.2" x2="618.8" y2="492.2" stroke="#1a1a1a" stroke-width="1.4"/>
<line x1="576.3" y1="512" x2="699.2" y2="512" stroke="#1a1a1a" stroke-width="1.4"/>
<line x1="576.3" y1="469.1" x2="679.2" y2="469.1" stroke="#1a1a1a" stroke-width="1.4"/>
<line x1="630.2" y1="414.5" x2="692.2" y2="414.5" stroke="#1a1a1a" stroke-width="1.5"/>
<polygon points="618.8,414.5 637.8,411.5 637.8,417.5" fill="#1a1a1a"/>
<polygon points="703.6,414.5 684.6,417.5 684.6,411.5" fill="#1a1a1a"/>
<text transform="translate(660.5 412.1)" font-size="18.6" text-anchor="middle" fill="#1a1a1a" >34</text>
<line x1="635" y1="551.4" x2="687.8" y2="551.4" stroke="#1a1a1a" stroke-width="1.5"/>
<polygon points="623.6,551.4 642.6,548.4 642.6,554.4" fill="#1a1a1a"/>
<polygon points="699.2,551.4 680.2,554.4 680.2,548.4" fill="#1a1a1a"/>
<text transform="translate(661 549.5)" font-size="19.5" text-anchor="middle" fill="#1a1a1a" >30.4</text>
<line x1="582.2" y1="476.3" x2="582.2" y2="504.8" stroke="#1a1a1a" stroke-width="1.4"/>
<polygon points="582.2,469.1 584.7,481.1 579.7,481.1" fill="#1a1a1a"/>
<polygon points="582.2,512 579.7,500 584.7,500" fill="#1a1a1a"/>
<text transform="translate(577 490) rotate(-90) scale(0.87 1)" font-size="21.4" text-anchor="middle" fill="#1a1a1a" stroke="#1a1a1a" stroke-width="0.25" >17.5</text>
<line x1="593.7" y1="474" x2="593.7" y2="485" stroke="#1a1a1a" stroke-width="1.3"/>
<polygon points="593.7,492.2 591.2,480.2 596.2,480.2" fill="#1a1a1a"/>
<polygon points="593.7,512 596.2,524 591.2,524" fill="#1a1a1a"/>
<line x1="593.7" y1="520" x2="593.7" y2="541.4" stroke="#1a1a1a" stroke-width="1.3"/>
<text transform="translate(589.6 531.8) rotate(-90) scale(0.87 1)" font-size="21.4" text-anchor="middle" fill="#1a1a1a" stroke="#1a1a1a" stroke-width="0.25" >8.1</text>
<path d="M693.3 1330C697.48 1333.83 700.63 1342.35 702.1 1346.3C703.57 1350.25 702.72 1349.02 702.1 1353.7C701.48 1358.38 699.75 1367.75 698.4 1374.4C697.05 1381.05 694.37 1387.18 694 1393.6C693.63 1400.02 695.2 1406.97 696.2 1412.9C697.2 1418.83 699.87 1423.03 700 1429.2C700.13 1435.37 697 1442 697 1449.9C697 1457.8 700 1468.22 700 1476.6C700 1484.98 696.93 1493 697 1500.2C697.07 1507.4 701.4 1511.98 700.4 1519.8C699.4 1527.62 691.7 1538 691 1547.1C690.3 1556.2 696.03 1565.32 696.2 1574.4C696.37 1583.48 691.42 1592.45 692 1601.6C692.58 1610.75 699.08 1621.92 699.7 1629.3C700.32 1636.68 695.7 1640.45 695.7 1645.9C695.7 1651.35 699.75 1657.68 699.7 1662C699.65 1666.32 698.78 1669.5 695.4 1671.8C692.02 1674.1 685.17 1675.13 679.4 1675.8C673.63 1676.47 666.47 1676.05 660.8 1675.8C655.13 1675.55 651.37 1674.3 645.4 1674.3C639.43 1674.3 632.07 1675.52 625 1675.8C617.93 1676.08 609.13 1679.63 603 1676C596.87 1672.37 590.32 1662.9 588.2 1654C586.08 1645.1 588.83 1633.43 590.3 1622.6C591.77 1611.77 596.65 1597.73 597 1589C597.35 1580.27 591.93 1576.83 592.4 1570.2C592.87 1563.57 599.37 1555.9 599.8 1549.2C600.23 1542.5 595.47 1536.68 595 1530C594.53 1523.32 596.97 1516.28 597 1509.1C597.03 1501.92 594.58 1494.8 595.2 1486.9C595.82 1479 600.52 1469.85 600.7 1461.7C600.88 1453.55 596.62 1445.15 596.3 1438C595.98 1430.85 599.92 1426.2 598.8 1418.8C597.68 1411.4 590.02 1401.25 589.6 1393.6C589.18 1385.95 595.75 1380.3 596.3 1372.9C596.85 1365.5 591.05 1356.97 592.9 1349.2C594.75 1341.43 600.78 1330.98 607.4 1326.3C614.02 1321.62 623.97 1321.23 632.6 1321.1C641.23 1320.97 651.8 1325.13 659.2 1325.5C666.6 1325.87 671.32 1322.55 677 1323.3C682.68 1324.05 689.12 1326.17 693.3 1330Z" fill="#e1e1e1" stroke="#1a1a1a" stroke-width="1.6" />
<circle cx="611.8" cy="1350" r="4.4" fill="none" stroke="#1a1a1a" stroke-width="1.9"/>
<line x1="611.8" y1="1341.5" x2="611.8" y2="1358.5" stroke="#8a8a8a" stroke-width="0.9"/>
<circle cx="611.8" cy="1654.1" r="4.4" fill="none" stroke="#1a1a1a" stroke-width="1.9"/>
<line x1="611.8" y1="1645.6" x2="611.8" y2="1662.6" stroke="#8a8a8a" stroke-width="0.9"/>
<circle cx="678.7" cy="1350" r="4.4" fill="none" stroke="#1a1a1a" stroke-width="1.9"/>
<line x1="678.7" y1="1341.5" x2="678.7" y2="1358.5" stroke="#8a8a8a" stroke-width="0.9"/>
<circle cx="678.7" cy="1654.1" r="4.4" fill="none" stroke="#1a1a1a" stroke-width="1.9"/>
<line x1="678.7" y1="1645.6" x2="678.7" y2="1662.6" stroke="#8a8a8a" stroke-width="0.9"/>
<line x1="602.9" y1="1350" x2="607" y2="1350" stroke="#666" stroke-width="1.1"/>
<line x1="616.4" y1="1350" x2="625.9" y2="1350" stroke="#666" stroke-width="1.1"/>
<line x1="640" y1="1350" x2="651.8" y2="1350" stroke="#666" stroke-width="1.1"/>
<line x1="664.2" y1="1350" x2="674" y2="1350" stroke="#666" stroke-width="1.1"/>
<line x1="683.5" y1="1350" x2="688.6" y2="1350" stroke="#666" stroke-width="1.1"/>
<line x1="602.9" y1="1654.1" x2="607" y2="1654.1" stroke="#666" stroke-width="1.1"/>
<line x1="616.4" y1="1654.1" x2="625.9" y2="1654.1" stroke="#666" stroke-width="1.1"/>
<line x1="640" y1="1654.1" x2="651.8" y2="1654.1" stroke="#666" stroke-width="1.1"/>
<line x1="664.2" y1="1654.1" x2="674" y2="1654.1" stroke="#666" stroke-width="1.1"/>
<line x1="683.5" y1="1654.1" x2="688.6" y2="1654.1" stroke="#666" stroke-width="1.1"/>
<line x1="691.8" y1="1350" x2="753.2" y2="1350" stroke="#777" stroke-width="1.1"/>
<line x1="690.5" y1="1654.1" x2="753.2" y2="1654.1" stroke="#555" stroke-width="1.1"/>
<line x1="645.1" y1="1301.1" x2="645.1" y2="1315.9" stroke="#1a1a1a" stroke-width="1.7"/>
<line x1="645.1" y1="1319.6" x2="645.1" y2="1334.4" stroke="#1a1a1a" stroke-width="1.7"/>
<line x1="645.1" y1="1344.8" x2="645.1" y2="1390.7" stroke="#1a1a1a" stroke-width="1.7"/>
<line x1="645.1" y1="1400.3" x2="645.1" y2="1407" stroke="#1a1a1a" stroke-width="1.7"/>
<line x1="645.1" y1="1418.8" x2="645.1" y2="1465.4" stroke="#1a1a1a" stroke-width="1.7"/>
<line x1="645.1" y1="1472.8" x2="645.1" y2="1481" stroke="#1a1a1a" stroke-width="1.7"/>
<line x1="645.1" y1="1492.8" x2="645.1" y2="1545" stroke="#1a1a1a" stroke-width="1.7"/>
<line x1="645.1" y1="1549.2" x2="645.1" y2="1557.6" stroke="#1a1a1a" stroke-width="1.7"/>
<line x1="645.1" y1="1563.9" x2="645.1" y2="1616.3" stroke="#1a1a1a" stroke-width="1.7"/>
<line x1="645.1" y1="1624.7" x2="645.1" y2="1633.1" stroke="#1a1a1a" stroke-width="1.7"/>
<line x1="645.1" y1="1645.7" x2="645.1" y2="1686.6" stroke="#1a1a1a" stroke-width="1.7"/>
<line x1="584.2" y1="1502" x2="629.6" y2="1502" stroke="#1a1a1a" stroke-width="1.5"/>
<line x1="640" y1="1502" x2="648.8" y2="1502" stroke="#1a1a1a" stroke-width="1.5"/>
<line x1="658.5" y1="1502" x2="704.5" y2="1502" stroke="#1a1a1a" stroke-width="1.5"/>
<line x1="746.4" y1="1361.7" x2="746.4" y2="1642.4" stroke="#1a1a1a" stroke-width="1.6"/>
<polygon points="746.4,1350 750.2,1369.5 742.6,1369.5" fill="#1a1a1a"/>
<polygon points="746.4,1654.1 742.6,1634.6 750.2,1634.6" fill="#1a1a1a"/>
<text transform="translate(739.9 1499) rotate(-90) scale(0.85 1)" font-size="29.5" text-anchor="middle" fill="#1a1a1a" stroke="#1a1a1a" stroke-width="0.4" >200</text>
<line x1="611.9" y1="1662" x2="611.9" y2="1712.8" stroke="#8a8a8a" stroke-width="1"/>
<line x1="678.8" y1="1662" x2="678.8" y2="1712.8" stroke="#8a8a8a" stroke-width="1"/>
<line x1="624.5" y1="1706.5" x2="666.2" y2="1706.5" stroke="#1a1a1a" stroke-width="1.8"/>
<polygon points="611.9,1706.5 632.9,1702.75 632.9,1710.25" fill="#1a1a1a"/>
<polygon points="678.8,1706.5 657.8,1710.25 657.8,1702.75" fill="#1a1a1a"/>
<text transform="translate(646.8 1704)" font-size="25.2" text-anchor="middle" fill="#1a1a1a" >44</text>
<line x1="649.1" y1="1634.5" x2="658" y2="1639.4" stroke="#1a1a1a" stroke-width="1.7"/>
<path d="M697.5 1669.3L711.7 1681.5H852.5" fill="none" stroke="#1a1a1a" stroke-width="1.6" />
<polygon points="674.1,1650.5 654.93,1641.59 658.41,1636.34" fill="#1a1a1a"/>
<polygon points="683.1,1657.6 700.52,1667.54 696.5,1672.52" fill="#1a1a1a"/>
<text transform="translate(710.9 1677.1)" font-size="25.8" text-anchor="start" fill="#1a1a1a" letter-spacing="0.1" >Ø5.5 или М5</text>
<text transform="translate(641.3 1282.4) scale(0.68 1)" font-size="34" text-anchor="middle" fill="#1a1a1a" stroke="#1a1a1a" stroke-width="0.9" >Y</text>
<text transform="translate(639.4 1748.3) scale(0.68 1)" font-size="36.5" text-anchor="middle" fill="#1a1a1a" stroke="#1a1a1a" stroke-width="0.9" >Y</text>
<text transform="translate(560.2 1517.6) scale(0.63 1)" font-size="37" text-anchor="middle" fill="#1a1a1a" stroke="#1a1a1a" stroke-width="0.9" >X</text>
<text transform="translate(771 1517.6) scale(0.63 1)" font-size="37" text-anchor="middle" fill="#1a1a1a" stroke="#1a1a1a" stroke-width="0.9" >X</text>
</svg>
</body></html>
